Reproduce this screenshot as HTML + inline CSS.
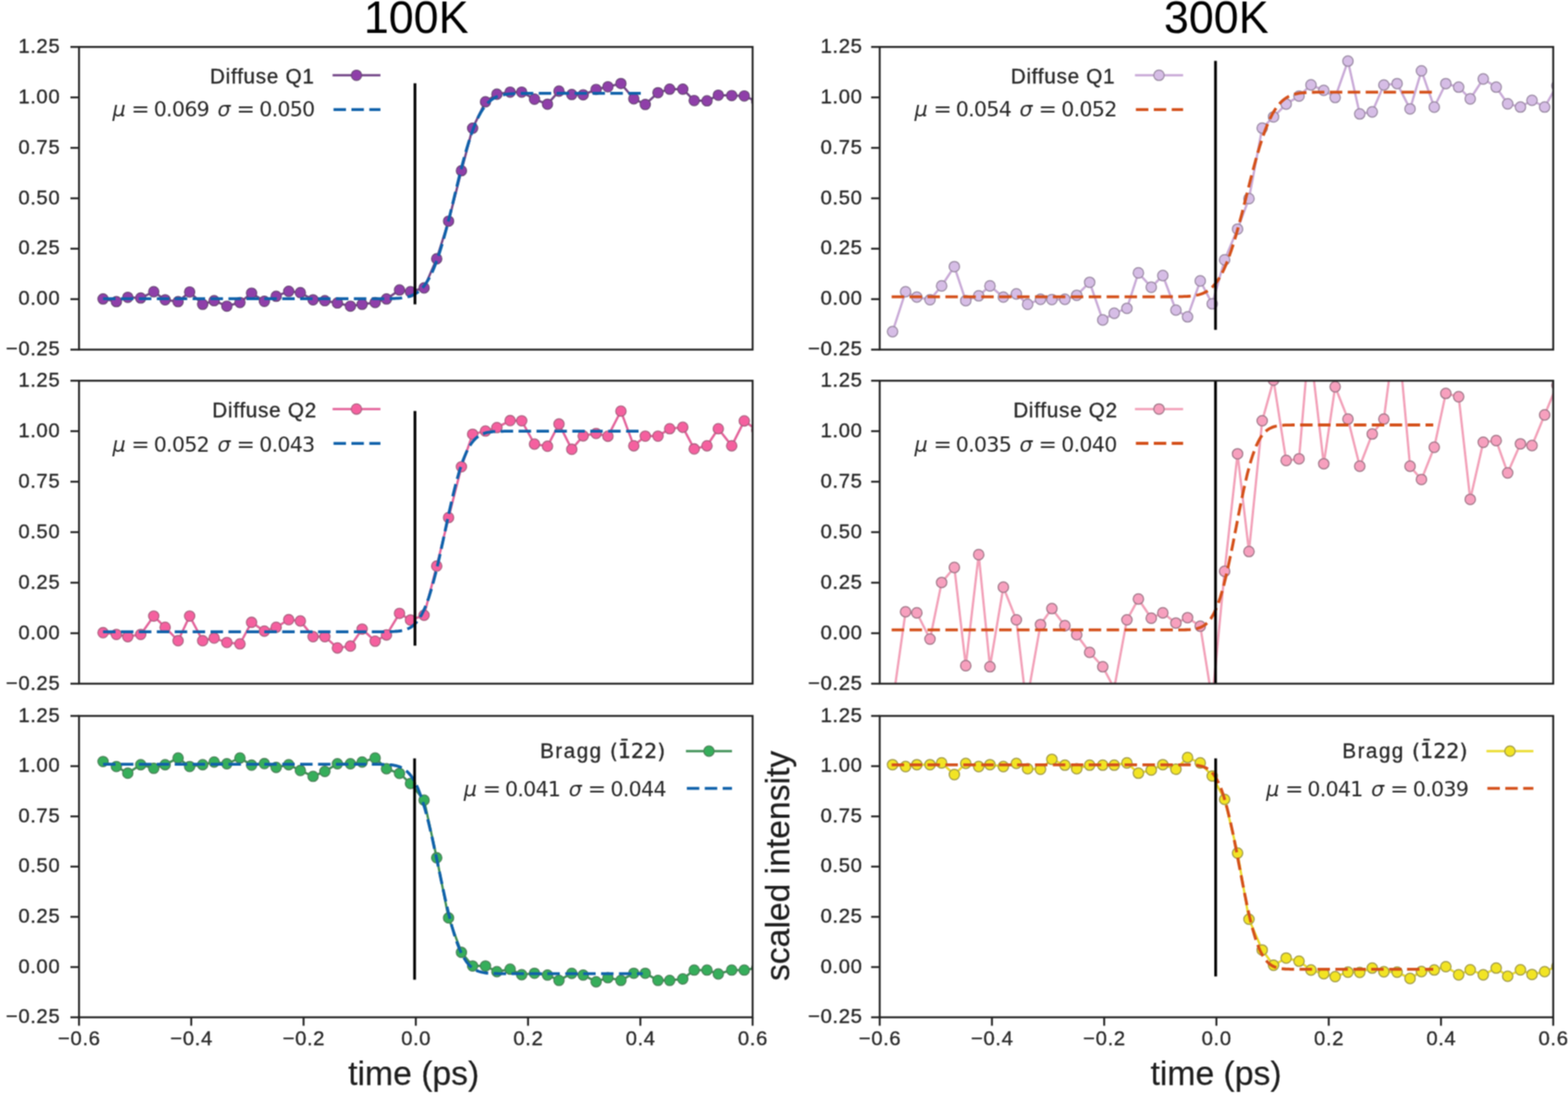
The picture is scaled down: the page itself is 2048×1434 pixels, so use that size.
<!DOCTYPE html>
<html><head><meta charset="utf-8"><title>Figure</title><style>html,body{margin:0;padding:0;background:#fff;}svg{display:block;}text{stroke:#282828;stroke-width:0.4px;}</style></head><body>
<svg width="2048" height="1434" viewBox="0 0 2048 1434">
<rect width="2048" height="1434" fill="#fff"/>
<defs>
<clipPath id="c00"><rect x="103.2" y="61.3" width="879.8" height="395.3"/></clipPath>
<clipPath id="c01"><rect x="1149.0" y="61.3" width="879.7" height="395.3"/></clipPath>
<clipPath id="c10"><rect x="103.2" y="497.2" width="879.8" height="395.7"/></clipPath>
<clipPath id="c11"><rect x="1149.0" y="497.2" width="879.7" height="395.7"/></clipPath>
<clipPath id="c20"><rect x="103.2" y="935.0" width="879.8" height="393.6"/></clipPath>
<clipPath id="c21"><rect x="1149.0" y="935.0" width="879.7" height="393.6"/></clipPath>
<filter id="blur" x="0" y="0" width="2048" height="1434" filterUnits="userSpaceOnUse" color-interpolation-filters="sRGB"><feConvolveMatrix order="3" kernelMatrix="1 2 1 2 4 2 1 2 1" divisor="16"/></filter>
</defs>
<g filter="url(#blur)">
<g clip-path="url(#c00)">
<polyline points="134.6,390.4 152.0,393.9 166.9,388.3 183.8,389.2 200.8,381.0 215.7,391.6 232.6,393.9 247.7,381.3 264.7,397.4 279.7,392.7 296.3,399.8 313.4,395.1 328.6,382.8 345.3,393.5 360.7,386.9 377.1,380.4 392.3,382.2 408.9,391.6 424.3,392.7 440.7,395.7 457.7,399.8 473.0,397.4 490.0,395.1 504.8,390.4 521.8,378.7 536.1,381.0 553.9,376.0 570.4,338.0 585.9,288.8 602.7,222.9 617.3,167.4 634.1,132.9 649.0,123.0 666.3,120.3 681.4,120.3 698.1,129.5 715.1,136.1 730.1,119.0 746.8,123.4 761.7,123.8 778.6,116.8 794.0,113.3 811.0,109.1 827.8,129.0 842.8,136.4 859.4,121.1 874.7,116.4 891.8,116.4 906.7,131.3 923.4,131.7 938.2,124.3 955.7,124.8 972.1,125.3 988.5,132.7" fill="none" stroke="#744789" stroke-width="3" stroke-linejoin="round"/>
<circle cx="134.6" cy="390.4" r="6.8" fill="#8f3fa9" stroke="#654672" stroke-width="1.2"/>
<circle cx="152.0" cy="393.9" r="6.8" fill="#8f3fa9" stroke="#654672" stroke-width="1.2"/>
<circle cx="166.9" cy="388.3" r="6.8" fill="#8f3fa9" stroke="#654672" stroke-width="1.2"/>
<circle cx="183.8" cy="389.2" r="6.8" fill="#8f3fa9" stroke="#654672" stroke-width="1.2"/>
<circle cx="200.8" cy="381.0" r="6.8" fill="#8f3fa9" stroke="#654672" stroke-width="1.2"/>
<circle cx="215.7" cy="391.6" r="6.8" fill="#8f3fa9" stroke="#654672" stroke-width="1.2"/>
<circle cx="232.6" cy="393.9" r="6.8" fill="#8f3fa9" stroke="#654672" stroke-width="1.2"/>
<circle cx="247.7" cy="381.3" r="6.8" fill="#8f3fa9" stroke="#654672" stroke-width="1.2"/>
<circle cx="264.7" cy="397.4" r="6.8" fill="#8f3fa9" stroke="#654672" stroke-width="1.2"/>
<circle cx="279.7" cy="392.7" r="6.8" fill="#8f3fa9" stroke="#654672" stroke-width="1.2"/>
<circle cx="296.3" cy="399.8" r="6.8" fill="#8f3fa9" stroke="#654672" stroke-width="1.2"/>
<circle cx="313.4" cy="395.1" r="6.8" fill="#8f3fa9" stroke="#654672" stroke-width="1.2"/>
<circle cx="328.6" cy="382.8" r="6.8" fill="#8f3fa9" stroke="#654672" stroke-width="1.2"/>
<circle cx="345.3" cy="393.5" r="6.8" fill="#8f3fa9" stroke="#654672" stroke-width="1.2"/>
<circle cx="360.7" cy="386.9" r="6.8" fill="#8f3fa9" stroke="#654672" stroke-width="1.2"/>
<circle cx="377.1" cy="380.4" r="6.8" fill="#8f3fa9" stroke="#654672" stroke-width="1.2"/>
<circle cx="392.3" cy="382.2" r="6.8" fill="#8f3fa9" stroke="#654672" stroke-width="1.2"/>
<circle cx="408.9" cy="391.6" r="6.8" fill="#8f3fa9" stroke="#654672" stroke-width="1.2"/>
<circle cx="424.3" cy="392.7" r="6.8" fill="#8f3fa9" stroke="#654672" stroke-width="1.2"/>
<circle cx="440.7" cy="395.7" r="6.8" fill="#8f3fa9" stroke="#654672" stroke-width="1.2"/>
<circle cx="457.7" cy="399.8" r="6.8" fill="#8f3fa9" stroke="#654672" stroke-width="1.2"/>
<circle cx="473.0" cy="397.4" r="6.8" fill="#8f3fa9" stroke="#654672" stroke-width="1.2"/>
<circle cx="490.0" cy="395.1" r="6.8" fill="#8f3fa9" stroke="#654672" stroke-width="1.2"/>
<circle cx="504.8" cy="390.4" r="6.8" fill="#8f3fa9" stroke="#654672" stroke-width="1.2"/>
<circle cx="521.8" cy="378.7" r="6.8" fill="#8f3fa9" stroke="#654672" stroke-width="1.2"/>
<circle cx="536.1" cy="381.0" r="6.8" fill="#8f3fa9" stroke="#654672" stroke-width="1.2"/>
<circle cx="553.9" cy="376.0" r="6.8" fill="#8f3fa9" stroke="#654672" stroke-width="1.2"/>
<circle cx="570.4" cy="338.0" r="6.8" fill="#8f3fa9" stroke="#654672" stroke-width="1.2"/>
<circle cx="585.9" cy="288.8" r="6.8" fill="#8f3fa9" stroke="#654672" stroke-width="1.2"/>
<circle cx="602.7" cy="222.9" r="6.8" fill="#8f3fa9" stroke="#654672" stroke-width="1.2"/>
<circle cx="617.3" cy="167.4" r="6.8" fill="#8f3fa9" stroke="#654672" stroke-width="1.2"/>
<circle cx="634.1" cy="132.9" r="6.8" fill="#8f3fa9" stroke="#654672" stroke-width="1.2"/>
<circle cx="649.0" cy="123.0" r="6.8" fill="#8f3fa9" stroke="#654672" stroke-width="1.2"/>
<circle cx="666.3" cy="120.3" r="6.8" fill="#8f3fa9" stroke="#654672" stroke-width="1.2"/>
<circle cx="681.4" cy="120.3" r="6.8" fill="#8f3fa9" stroke="#654672" stroke-width="1.2"/>
<circle cx="698.1" cy="129.5" r="6.8" fill="#8f3fa9" stroke="#654672" stroke-width="1.2"/>
<circle cx="715.1" cy="136.1" r="6.8" fill="#8f3fa9" stroke="#654672" stroke-width="1.2"/>
<circle cx="730.1" cy="119.0" r="6.8" fill="#8f3fa9" stroke="#654672" stroke-width="1.2"/>
<circle cx="746.8" cy="123.4" r="6.8" fill="#8f3fa9" stroke="#654672" stroke-width="1.2"/>
<circle cx="761.7" cy="123.8" r="6.8" fill="#8f3fa9" stroke="#654672" stroke-width="1.2"/>
<circle cx="778.6" cy="116.8" r="6.8" fill="#8f3fa9" stroke="#654672" stroke-width="1.2"/>
<circle cx="794.0" cy="113.3" r="6.8" fill="#8f3fa9" stroke="#654672" stroke-width="1.2"/>
<circle cx="811.0" cy="109.1" r="6.8" fill="#8f3fa9" stroke="#654672" stroke-width="1.2"/>
<circle cx="827.8" cy="129.0" r="6.8" fill="#8f3fa9" stroke="#654672" stroke-width="1.2"/>
<circle cx="842.8" cy="136.4" r="6.8" fill="#8f3fa9" stroke="#654672" stroke-width="1.2"/>
<circle cx="859.4" cy="121.1" r="6.8" fill="#8f3fa9" stroke="#654672" stroke-width="1.2"/>
<circle cx="874.7" cy="116.4" r="6.8" fill="#8f3fa9" stroke="#654672" stroke-width="1.2"/>
<circle cx="891.8" cy="116.4" r="6.8" fill="#8f3fa9" stroke="#654672" stroke-width="1.2"/>
<circle cx="906.7" cy="131.3" r="6.8" fill="#8f3fa9" stroke="#654672" stroke-width="1.2"/>
<circle cx="923.4" cy="131.7" r="6.8" fill="#8f3fa9" stroke="#654672" stroke-width="1.2"/>
<circle cx="938.2" cy="124.3" r="6.8" fill="#8f3fa9" stroke="#654672" stroke-width="1.2"/>
<circle cx="955.7" cy="124.8" r="6.8" fill="#8f3fa9" stroke="#654672" stroke-width="1.2"/>
<circle cx="972.1" cy="125.3" r="6.8" fill="#8f3fa9" stroke="#654672" stroke-width="1.2"/>
<circle cx="988.5" cy="132.7" r="6.8" fill="#8f3fa9" stroke="#654672" stroke-width="1.2"/>
</g>
<g clip-path="url(#c00)"><polyline points="134.6,390.2 136.9,390.2 139.3,390.2 141.6,390.2 144.0,390.2 146.3,390.2 148.7,390.2 151.0,390.2 153.4,390.2 155.7,390.2 158.1,390.2 160.4,390.2 162.8,390.2 165.1,390.2 167.5,390.2 169.8,390.2 172.2,390.2 174.5,390.2 176.9,390.2 179.2,390.2 181.6,390.2 183.9,390.2 186.3,390.2 188.6,390.2 191.0,390.2 193.3,390.2 195.7,390.2 198.0,390.2 200.4,390.2 202.7,390.2 205.1,390.2 207.4,390.2 209.8,390.2 212.1,390.2 214.5,390.2 216.8,390.2 219.2,390.2 221.5,390.2 223.9,390.2 226.2,390.2 228.6,390.2 230.9,390.2 233.3,390.2 235.6,390.2 238.0,390.2 240.3,390.2 242.7,390.2 245.0,390.2 247.4,390.2 249.7,390.2 252.1,390.2 254.4,390.2 256.8,390.2 259.1,390.2 261.5,390.2 263.8,390.2 266.2,390.2 268.5,390.2 270.9,390.2 273.2,390.2 275.6,390.2 277.9,390.2 280.3,390.2 282.6,390.2 285.0,390.2 287.3,390.2 289.7,390.2 292.0,390.2 294.4,390.2 296.7,390.2 299.1,390.2 301.4,390.2 303.8,390.2 306.1,390.2 308.5,390.2 310.8,390.2 313.2,390.2 315.5,390.2 317.9,390.2 320.2,390.2 322.6,390.2 324.9,390.2 327.3,390.2 329.6,390.2 332.0,390.2 334.3,390.2 336.7,390.2 339.0,390.2 341.4,390.2 343.7,390.2 346.1,390.2 348.4,390.2 350.8,390.2 353.1,390.2 355.5,390.2 357.8,390.2 360.2,390.2 362.5,390.2 364.9,390.2 367.2,390.2 369.6,390.2 371.9,390.2 374.3,390.2 376.6,390.2 379.0,390.2 381.3,390.2 383.7,390.2 386.0,390.2 388.4,390.2 390.7,390.2 393.1,390.2 395.4,390.2 397.8,390.2 400.1,390.2 402.5,390.2 404.8,390.2 407.2,390.2 409.5,390.2 411.9,390.2 414.2,390.2 416.6,390.2 418.9,390.2 421.3,390.2 423.6,390.2 426.0,390.2 428.3,390.2 430.7,390.2 433.0,390.2 435.4,390.2 437.7,390.2 440.1,390.2 442.4,390.2 444.8,390.2 447.1,390.2 449.5,390.2 451.8,390.2 454.2,390.2 456.5,390.2 458.9,390.2 461.2,390.2 463.6,390.2 465.9,390.2 468.3,390.2 470.6,390.2 473.0,390.2 475.3,390.2 477.7,390.2 480.0,390.2 482.4,390.2 484.7,390.2 487.0,390.2 489.4,390.2 491.7,390.2 494.1,390.2 496.4,390.2 498.8,390.2 501.1,390.1 503.5,390.1 505.8,390.1 508.2,390.1 510.5,390.0 512.9,389.9 515.2,389.9 517.6,389.7 519.9,389.6 522.3,389.4 524.6,389.2 527.0,388.8 529.3,388.4 531.7,387.9 534.0,387.3 536.4,386.6 538.7,385.6 541.1,384.5 543.4,383.1 545.8,381.5 548.1,379.6 550.5,377.4 552.8,374.8 555.2,371.7 557.5,368.3 559.9,364.4 562.2,360.0 564.6,355.1 566.9,349.7 569.3,343.7 571.6,337.2 574.0,330.2 576.3,322.7 578.7,314.7 581.0,306.3 583.4,297.5 585.7,288.4 588.1,279.0 590.4,269.4 592.8,259.8 595.1,250.1 597.5,240.4 599.8,230.9 602.2,221.6 604.5,212.5 606.9,203.8 609.2,195.5 611.6,187.6 613.9,180.2 616.3,173.3 618.6,167.0 621.0,161.1 623.3,155.8 625.7,151.0 628.0,146.8 630.4,143.0 632.7,139.6 635.1,136.7 637.4,134.2 639.8,132.0 642.1,130.2 644.5,128.6 646.8,127.3 649.2,126.2 651.5,125.4 653.9,124.6 656.2,124.0 658.6,123.6 660.9,123.2 663.3,122.9 665.6,122.7 668.0,122.5 670.3,122.3 672.7,122.2 675.0,122.1 677.4,122.1 679.7,122.0 682.1,122.0 684.4,122.0 686.8,122.0 689.1,121.9 691.5,121.9 693.8,121.9 696.2,121.9 698.5,121.9 700.9,121.9 703.2,121.9 705.6,121.9 707.9,121.9 710.3,121.9 712.6,121.9 715.0,121.9 717.3,121.9 719.7,121.9 722.0,121.9 724.4,121.9 726.7,121.9 729.1,121.9 731.4,121.9 733.8,121.9 736.1,121.9 738.5,121.9 740.8,121.9 743.2,121.9 745.5,121.9 747.9,121.9 750.2,121.9 752.6,121.9 754.9,121.9 757.3,121.9 759.6,121.9 762.0,121.9 764.3,121.9 766.7,121.9 769.0,121.9 771.4,121.9 773.7,121.9 776.1,121.9 778.4,121.9 780.8,121.9 783.1,121.9 785.5,121.9 787.8,121.9 790.2,121.9 792.5,121.9 794.9,121.9 797.2,121.9 799.6,121.9 801.9,121.9 804.3,121.9 806.6,121.9 809.0,121.9 811.3,121.9 813.7,121.9 816.0,121.9 818.4,121.9 820.7,121.9 823.1,121.9 825.4,121.9 827.8,121.9 830.1,121.9 832.5,121.9 834.8,121.9 837.2,121.9 839.5,121.9" fill="none" stroke="#0f61aa" stroke-width="3.8" stroke-dasharray="16.3 7.1"/></g>
<line x1="542.0" y1="108.8" x2="542.0" y2="397.4" stroke="#000" stroke-width="3.6"/>
<g clip-path="url(#c10)">
<polyline points="134.6,826.3 152.0,828.6 166.9,831.5 183.8,828.6 200.8,804.6 215.7,819.2 232.6,836.8 247.7,804.6 264.7,836.8 279.7,833.3 296.3,839.1 313.4,840.9 328.6,812.8 345.3,824.2 360.7,819.2 377.1,809.3 392.3,811.0 408.9,831.5 424.3,831.5 440.7,846.2 457.7,843.8 473.0,821.6 490.0,837.4 504.8,829.2 521.8,801.1 536.1,809.8 553.9,803.5 570.4,739.3 585.9,675.9 602.7,609.6 617.3,567.1 634.1,562.9 649.0,558.4 666.3,549.3 681.4,549.6 698.1,580.0 715.1,582.8 730.1,553.8 746.8,586.8 761.7,569.2 778.6,566.1 794.0,569.7 811.0,536.9 827.8,582.2 842.8,569.6 859.4,569.6 874.7,559.9 891.8,558.0 906.7,586.3 923.4,582.2 938.2,559.9 955.7,582.2 972.1,549.7 988.5,561.7" fill="none" stroke="#e3649b" stroke-width="3" stroke-linejoin="round"/>
<circle cx="134.6" cy="826.3" r="6.8" fill="#f5609f" stroke="#a8607e" stroke-width="1.3"/>
<circle cx="152.0" cy="828.6" r="6.8" fill="#f5609f" stroke="#a8607e" stroke-width="1.3"/>
<circle cx="166.9" cy="831.5" r="6.8" fill="#f5609f" stroke="#a8607e" stroke-width="1.3"/>
<circle cx="183.8" cy="828.6" r="6.8" fill="#f5609f" stroke="#a8607e" stroke-width="1.3"/>
<circle cx="200.8" cy="804.6" r="6.8" fill="#f5609f" stroke="#a8607e" stroke-width="1.3"/>
<circle cx="215.7" cy="819.2" r="6.8" fill="#f5609f" stroke="#a8607e" stroke-width="1.3"/>
<circle cx="232.6" cy="836.8" r="6.8" fill="#f5609f" stroke="#a8607e" stroke-width="1.3"/>
<circle cx="247.7" cy="804.6" r="6.8" fill="#f5609f" stroke="#a8607e" stroke-width="1.3"/>
<circle cx="264.7" cy="836.8" r="6.8" fill="#f5609f" stroke="#a8607e" stroke-width="1.3"/>
<circle cx="279.7" cy="833.3" r="6.8" fill="#f5609f" stroke="#a8607e" stroke-width="1.3"/>
<circle cx="296.3" cy="839.1" r="6.8" fill="#f5609f" stroke="#a8607e" stroke-width="1.3"/>
<circle cx="313.4" cy="840.9" r="6.8" fill="#f5609f" stroke="#a8607e" stroke-width="1.3"/>
<circle cx="328.6" cy="812.8" r="6.8" fill="#f5609f" stroke="#a8607e" stroke-width="1.3"/>
<circle cx="345.3" cy="824.2" r="6.8" fill="#f5609f" stroke="#a8607e" stroke-width="1.3"/>
<circle cx="360.7" cy="819.2" r="6.8" fill="#f5609f" stroke="#a8607e" stroke-width="1.3"/>
<circle cx="377.1" cy="809.3" r="6.8" fill="#f5609f" stroke="#a8607e" stroke-width="1.3"/>
<circle cx="392.3" cy="811.0" r="6.8" fill="#f5609f" stroke="#a8607e" stroke-width="1.3"/>
<circle cx="408.9" cy="831.5" r="6.8" fill="#f5609f" stroke="#a8607e" stroke-width="1.3"/>
<circle cx="424.3" cy="831.5" r="6.8" fill="#f5609f" stroke="#a8607e" stroke-width="1.3"/>
<circle cx="440.7" cy="846.2" r="6.8" fill="#f5609f" stroke="#a8607e" stroke-width="1.3"/>
<circle cx="457.7" cy="843.8" r="6.8" fill="#f5609f" stroke="#a8607e" stroke-width="1.3"/>
<circle cx="473.0" cy="821.6" r="6.8" fill="#f5609f" stroke="#a8607e" stroke-width="1.3"/>
<circle cx="490.0" cy="837.4" r="6.8" fill="#f5609f" stroke="#a8607e" stroke-width="1.3"/>
<circle cx="504.8" cy="829.2" r="6.8" fill="#f5609f" stroke="#a8607e" stroke-width="1.3"/>
<circle cx="521.8" cy="801.1" r="6.8" fill="#f5609f" stroke="#a8607e" stroke-width="1.3"/>
<circle cx="536.1" cy="809.8" r="6.8" fill="#f5609f" stroke="#a8607e" stroke-width="1.3"/>
<circle cx="553.9" cy="803.5" r="6.8" fill="#f5609f" stroke="#a8607e" stroke-width="1.3"/>
<circle cx="570.4" cy="739.3" r="6.8" fill="#f5609f" stroke="#a8607e" stroke-width="1.3"/>
<circle cx="585.9" cy="675.9" r="6.8" fill="#f5609f" stroke="#a8607e" stroke-width="1.3"/>
<circle cx="602.7" cy="609.6" r="6.8" fill="#f5609f" stroke="#a8607e" stroke-width="1.3"/>
<circle cx="617.3" cy="567.1" r="6.8" fill="#f5609f" stroke="#a8607e" stroke-width="1.3"/>
<circle cx="634.1" cy="562.9" r="6.8" fill="#f5609f" stroke="#a8607e" stroke-width="1.3"/>
<circle cx="649.0" cy="558.4" r="6.8" fill="#f5609f" stroke="#a8607e" stroke-width="1.3"/>
<circle cx="666.3" cy="549.3" r="6.8" fill="#f5609f" stroke="#a8607e" stroke-width="1.3"/>
<circle cx="681.4" cy="549.6" r="6.8" fill="#f5609f" stroke="#a8607e" stroke-width="1.3"/>
<circle cx="698.1" cy="580.0" r="6.8" fill="#f5609f" stroke="#a8607e" stroke-width="1.3"/>
<circle cx="715.1" cy="582.8" r="6.8" fill="#f5609f" stroke="#a8607e" stroke-width="1.3"/>
<circle cx="730.1" cy="553.8" r="6.8" fill="#f5609f" stroke="#a8607e" stroke-width="1.3"/>
<circle cx="746.8" cy="586.8" r="6.8" fill="#f5609f" stroke="#a8607e" stroke-width="1.3"/>
<circle cx="761.7" cy="569.2" r="6.8" fill="#f5609f" stroke="#a8607e" stroke-width="1.3"/>
<circle cx="778.6" cy="566.1" r="6.8" fill="#f5609f" stroke="#a8607e" stroke-width="1.3"/>
<circle cx="794.0" cy="569.7" r="6.8" fill="#f5609f" stroke="#a8607e" stroke-width="1.3"/>
<circle cx="811.0" cy="536.9" r="6.8" fill="#f5609f" stroke="#a8607e" stroke-width="1.3"/>
<circle cx="827.8" cy="582.2" r="6.8" fill="#f5609f" stroke="#a8607e" stroke-width="1.3"/>
<circle cx="842.8" cy="569.6" r="6.8" fill="#f5609f" stroke="#a8607e" stroke-width="1.3"/>
<circle cx="859.4" cy="569.6" r="6.8" fill="#f5609f" stroke="#a8607e" stroke-width="1.3"/>
<circle cx="874.7" cy="559.9" r="6.8" fill="#f5609f" stroke="#a8607e" stroke-width="1.3"/>
<circle cx="891.8" cy="558.0" r="6.8" fill="#f5609f" stroke="#a8607e" stroke-width="1.3"/>
<circle cx="906.7" cy="586.3" r="6.8" fill="#f5609f" stroke="#a8607e" stroke-width="1.3"/>
<circle cx="923.4" cy="582.2" r="6.8" fill="#f5609f" stroke="#a8607e" stroke-width="1.3"/>
<circle cx="938.2" cy="559.9" r="6.8" fill="#f5609f" stroke="#a8607e" stroke-width="1.3"/>
<circle cx="955.7" cy="582.2" r="6.8" fill="#f5609f" stroke="#a8607e" stroke-width="1.3"/>
<circle cx="972.1" cy="549.7" r="6.8" fill="#f5609f" stroke="#a8607e" stroke-width="1.3"/>
<circle cx="988.5" cy="561.7" r="6.8" fill="#f5609f" stroke="#a8607e" stroke-width="1.3"/>
</g>
<g clip-path="url(#c10)"><polyline points="134.6,825.1 136.9,825.1 139.3,825.1 141.6,825.1 144.0,825.1 146.3,825.1 148.7,825.1 151.0,825.1 153.4,825.1 155.7,825.1 158.1,825.1 160.4,825.1 162.8,825.1 165.1,825.1 167.5,825.1 169.8,825.1 172.2,825.1 174.5,825.1 176.9,825.1 179.2,825.1 181.6,825.1 183.9,825.1 186.3,825.1 188.6,825.1 191.0,825.1 193.3,825.1 195.7,825.1 198.0,825.1 200.4,825.1 202.7,825.1 205.1,825.1 207.4,825.1 209.8,825.1 212.1,825.1 214.5,825.1 216.8,825.1 219.2,825.1 221.5,825.1 223.9,825.1 226.2,825.1 228.6,825.1 230.9,825.1 233.3,825.1 235.6,825.1 238.0,825.1 240.3,825.1 242.7,825.1 245.0,825.1 247.4,825.1 249.7,825.1 252.1,825.1 254.4,825.1 256.8,825.1 259.1,825.1 261.5,825.1 263.8,825.1 266.2,825.1 268.5,825.1 270.9,825.1 273.2,825.1 275.6,825.1 277.9,825.1 280.3,825.1 282.6,825.1 285.0,825.1 287.3,825.1 289.7,825.1 292.0,825.1 294.4,825.1 296.7,825.1 299.1,825.1 301.4,825.1 303.8,825.1 306.1,825.1 308.5,825.1 310.8,825.1 313.2,825.1 315.5,825.1 317.9,825.1 320.2,825.1 322.6,825.1 324.9,825.1 327.3,825.1 329.6,825.1 332.0,825.1 334.3,825.1 336.7,825.1 339.0,825.1 341.4,825.1 343.7,825.1 346.1,825.1 348.4,825.1 350.8,825.1 353.1,825.1 355.5,825.1 357.8,825.1 360.2,825.1 362.5,825.1 364.9,825.1 367.2,825.1 369.6,825.1 371.9,825.1 374.3,825.1 376.6,825.1 379.0,825.1 381.3,825.1 383.7,825.1 386.0,825.1 388.4,825.1 390.7,825.1 393.1,825.1 395.4,825.1 397.8,825.1 400.1,825.1 402.5,825.1 404.8,825.1 407.2,825.1 409.5,825.1 411.9,825.1 414.2,825.1 416.6,825.1 418.9,825.1 421.3,825.1 423.6,825.1 426.0,825.1 428.3,825.1 430.7,825.1 433.0,825.1 435.4,825.1 437.7,825.1 440.1,825.1 442.4,825.1 444.8,825.1 447.1,825.1 449.5,825.1 451.8,825.1 454.2,825.1 456.5,825.1 458.9,825.1 461.2,825.1 463.6,825.1 465.9,825.1 468.3,825.1 470.6,825.1 473.0,825.1 475.3,825.1 477.7,825.1 480.0,825.1 482.4,825.1 484.7,825.1 487.0,825.1 489.4,825.1 491.7,825.1 494.1,825.1 496.4,825.1 498.8,825.1 501.1,825.1 503.5,825.0 505.8,825.0 508.2,825.0 510.5,824.9 512.9,824.8 515.2,824.7 517.6,824.5 519.9,824.3 522.3,824.0 524.6,823.6 527.0,823.1 529.3,822.5 531.7,821.7 534.0,820.6 536.4,819.3 538.7,817.7 541.1,815.7 543.4,813.3 545.8,810.4 548.1,807.1 550.5,803.1 552.8,798.5 555.2,793.3 557.5,787.4 559.9,780.8 562.2,773.4 564.6,765.4 566.9,756.8 569.3,747.5 571.6,737.7 574.0,727.5 576.3,716.9 578.7,706.0 581.0,695.0 583.4,684.0 585.7,673.1 588.1,662.5 590.4,652.1 592.8,642.3 595.1,632.9 597.5,624.2 599.8,616.0 602.2,608.6 604.5,601.9 606.9,595.9 609.2,590.5 611.6,585.8 613.9,581.8 616.3,578.3 618.6,575.4 621.0,572.9 623.3,570.9 625.7,569.2 628.0,567.8 630.4,566.7 632.7,565.9 635.1,565.2 637.4,564.7 639.8,564.3 642.1,564.0 644.5,563.7 646.8,563.6 649.2,563.5 651.5,563.4 653.9,563.3 656.2,563.3 658.6,563.2 660.9,563.2 663.3,563.2 665.6,563.2 668.0,563.2 670.3,563.2 672.7,563.2 675.0,563.2 677.4,563.2 679.7,563.2 682.1,563.2 684.4,563.2 686.8,563.2 689.1,563.2 691.5,563.2 693.8,563.2 696.2,563.2 698.5,563.2 700.9,563.2 703.2,563.2 705.6,563.2 707.9,563.2 710.3,563.2 712.6,563.2 715.0,563.2 717.3,563.2 719.7,563.2 722.0,563.2 724.4,563.2 726.7,563.2 729.1,563.2 731.4,563.2 733.8,563.2 736.1,563.2 738.5,563.2 740.8,563.2 743.2,563.2 745.5,563.2 747.9,563.2 750.2,563.2 752.6,563.2 754.9,563.2 757.3,563.2 759.6,563.2 762.0,563.2 764.3,563.1 766.7,563.1 769.0,563.1 771.4,563.1 773.7,563.1 776.1,563.1 778.4,563.1 780.8,563.1 783.1,563.1 785.5,563.1 787.8,563.1 790.2,563.1 792.5,563.1 794.9,563.1 797.2,563.1 799.6,563.1 801.9,563.1 804.3,563.1 806.6,563.1 809.0,563.1 811.3,563.1 813.7,563.1 816.0,563.1 818.4,563.1 820.7,563.1 823.1,563.1 825.4,563.1 827.8,563.1 830.1,563.1 832.5,563.1 834.8,563.1 837.2,563.1 839.5,563.1" fill="none" stroke="#0f61aa" stroke-width="3.8" stroke-dasharray="16.3 7.1"/></g>
<line x1="542.0" y1="536.7" x2="542.0" y2="843.2" stroke="#000" stroke-width="3.6"/>
<g clip-path="url(#c20)">
<polyline points="134.6,994.6 152.0,1001.1 166.9,1009.8 183.8,998.7 200.8,1003.4 215.7,998.7 232.6,989.9 247.7,1001.1 264.7,998.7 279.7,995.2 296.3,997.5 313.4,989.9 328.6,999.3 345.3,997.3 360.7,1002.2 377.1,998.7 392.3,1006.3 408.9,1013.9 424.3,1007.5 440.7,997.5 457.7,997.5 473.0,995.2 490.0,989.9 504.8,1004.0 521.8,1010.1 536.1,1023.2 553.9,1045.0 570.4,1120.3 585.9,1198.8 602.7,1243.8 617.3,1261.6 634.1,1261.6 649.0,1269.0 666.3,1265.7 681.4,1273.0 698.1,1271.1 715.1,1273.4 730.1,1280.4 746.8,1271.2 761.7,1273.4 778.6,1282.2 794.0,1276.9 811.0,1280.4 827.8,1271.1 842.8,1271.1 859.4,1280.4 874.7,1280.4 891.8,1278.5 906.7,1266.9 923.4,1266.9 938.2,1272.0 955.7,1266.9 972.1,1266.9 988.5,1264.1" fill="none" stroke="#3f9056" stroke-width="3" stroke-linejoin="round"/>
<circle cx="134.6" cy="994.6" r="6.8" fill="#36ae5b" stroke="#4a7f57" stroke-width="1.3"/>
<circle cx="152.0" cy="1001.1" r="6.8" fill="#36ae5b" stroke="#4a7f57" stroke-width="1.3"/>
<circle cx="166.9" cy="1009.8" r="6.8" fill="#36ae5b" stroke="#4a7f57" stroke-width="1.3"/>
<circle cx="183.8" cy="998.7" r="6.8" fill="#36ae5b" stroke="#4a7f57" stroke-width="1.3"/>
<circle cx="200.8" cy="1003.4" r="6.8" fill="#36ae5b" stroke="#4a7f57" stroke-width="1.3"/>
<circle cx="215.7" cy="998.7" r="6.8" fill="#36ae5b" stroke="#4a7f57" stroke-width="1.3"/>
<circle cx="232.6" cy="989.9" r="6.8" fill="#36ae5b" stroke="#4a7f57" stroke-width="1.3"/>
<circle cx="247.7" cy="1001.1" r="6.8" fill="#36ae5b" stroke="#4a7f57" stroke-width="1.3"/>
<circle cx="264.7" cy="998.7" r="6.8" fill="#36ae5b" stroke="#4a7f57" stroke-width="1.3"/>
<circle cx="279.7" cy="995.2" r="6.8" fill="#36ae5b" stroke="#4a7f57" stroke-width="1.3"/>
<circle cx="296.3" cy="997.5" r="6.8" fill="#36ae5b" stroke="#4a7f57" stroke-width="1.3"/>
<circle cx="313.4" cy="989.9" r="6.8" fill="#36ae5b" stroke="#4a7f57" stroke-width="1.3"/>
<circle cx="328.6" cy="999.3" r="6.8" fill="#36ae5b" stroke="#4a7f57" stroke-width="1.3"/>
<circle cx="345.3" cy="997.3" r="6.8" fill="#36ae5b" stroke="#4a7f57" stroke-width="1.3"/>
<circle cx="360.7" cy="1002.2" r="6.8" fill="#36ae5b" stroke="#4a7f57" stroke-width="1.3"/>
<circle cx="377.1" cy="998.7" r="6.8" fill="#36ae5b" stroke="#4a7f57" stroke-width="1.3"/>
<circle cx="392.3" cy="1006.3" r="6.8" fill="#36ae5b" stroke="#4a7f57" stroke-width="1.3"/>
<circle cx="408.9" cy="1013.9" r="6.8" fill="#36ae5b" stroke="#4a7f57" stroke-width="1.3"/>
<circle cx="424.3" cy="1007.5" r="6.8" fill="#36ae5b" stroke="#4a7f57" stroke-width="1.3"/>
<circle cx="440.7" cy="997.5" r="6.8" fill="#36ae5b" stroke="#4a7f57" stroke-width="1.3"/>
<circle cx="457.7" cy="997.5" r="6.8" fill="#36ae5b" stroke="#4a7f57" stroke-width="1.3"/>
<circle cx="473.0" cy="995.2" r="6.8" fill="#36ae5b" stroke="#4a7f57" stroke-width="1.3"/>
<circle cx="490.0" cy="989.9" r="6.8" fill="#36ae5b" stroke="#4a7f57" stroke-width="1.3"/>
<circle cx="504.8" cy="1004.0" r="6.8" fill="#36ae5b" stroke="#4a7f57" stroke-width="1.3"/>
<circle cx="521.8" cy="1010.1" r="6.8" fill="#36ae5b" stroke="#4a7f57" stroke-width="1.3"/>
<circle cx="536.1" cy="1023.2" r="6.8" fill="#36ae5b" stroke="#4a7f57" stroke-width="1.3"/>
<circle cx="553.9" cy="1045.0" r="6.8" fill="#36ae5b" stroke="#4a7f57" stroke-width="1.3"/>
<circle cx="570.4" cy="1120.3" r="6.8" fill="#36ae5b" stroke="#4a7f57" stroke-width="1.3"/>
<circle cx="585.9" cy="1198.8" r="6.8" fill="#36ae5b" stroke="#4a7f57" stroke-width="1.3"/>
<circle cx="602.7" cy="1243.8" r="6.8" fill="#36ae5b" stroke="#4a7f57" stroke-width="1.3"/>
<circle cx="617.3" cy="1261.6" r="6.8" fill="#36ae5b" stroke="#4a7f57" stroke-width="1.3"/>
<circle cx="634.1" cy="1261.6" r="6.8" fill="#36ae5b" stroke="#4a7f57" stroke-width="1.3"/>
<circle cx="649.0" cy="1269.0" r="6.8" fill="#36ae5b" stroke="#4a7f57" stroke-width="1.3"/>
<circle cx="666.3" cy="1265.7" r="6.8" fill="#36ae5b" stroke="#4a7f57" stroke-width="1.3"/>
<circle cx="681.4" cy="1273.0" r="6.8" fill="#36ae5b" stroke="#4a7f57" stroke-width="1.3"/>
<circle cx="698.1" cy="1271.1" r="6.8" fill="#36ae5b" stroke="#4a7f57" stroke-width="1.3"/>
<circle cx="715.1" cy="1273.4" r="6.8" fill="#36ae5b" stroke="#4a7f57" stroke-width="1.3"/>
<circle cx="730.1" cy="1280.4" r="6.8" fill="#36ae5b" stroke="#4a7f57" stroke-width="1.3"/>
<circle cx="746.8" cy="1271.2" r="6.8" fill="#36ae5b" stroke="#4a7f57" stroke-width="1.3"/>
<circle cx="761.7" cy="1273.4" r="6.8" fill="#36ae5b" stroke="#4a7f57" stroke-width="1.3"/>
<circle cx="778.6" cy="1282.2" r="6.8" fill="#36ae5b" stroke="#4a7f57" stroke-width="1.3"/>
<circle cx="794.0" cy="1276.9" r="6.8" fill="#36ae5b" stroke="#4a7f57" stroke-width="1.3"/>
<circle cx="811.0" cy="1280.4" r="6.8" fill="#36ae5b" stroke="#4a7f57" stroke-width="1.3"/>
<circle cx="827.8" cy="1271.1" r="6.8" fill="#36ae5b" stroke="#4a7f57" stroke-width="1.3"/>
<circle cx="842.8" cy="1271.1" r="6.8" fill="#36ae5b" stroke="#4a7f57" stroke-width="1.3"/>
<circle cx="859.4" cy="1280.4" r="6.8" fill="#36ae5b" stroke="#4a7f57" stroke-width="1.3"/>
<circle cx="874.7" cy="1280.4" r="6.8" fill="#36ae5b" stroke="#4a7f57" stroke-width="1.3"/>
<circle cx="891.8" cy="1278.5" r="6.8" fill="#36ae5b" stroke="#4a7f57" stroke-width="1.3"/>
<circle cx="906.7" cy="1266.9" r="6.8" fill="#36ae5b" stroke="#4a7f57" stroke-width="1.3"/>
<circle cx="923.4" cy="1266.9" r="6.8" fill="#36ae5b" stroke="#4a7f57" stroke-width="1.3"/>
<circle cx="938.2" cy="1272.0" r="6.8" fill="#36ae5b" stroke="#4a7f57" stroke-width="1.3"/>
<circle cx="955.7" cy="1266.9" r="6.8" fill="#36ae5b" stroke="#4a7f57" stroke-width="1.3"/>
<circle cx="972.1" cy="1266.9" r="6.8" fill="#36ae5b" stroke="#4a7f57" stroke-width="1.3"/>
<circle cx="988.5" cy="1264.1" r="6.8" fill="#36ae5b" stroke="#4a7f57" stroke-width="1.3"/>
</g>
<g clip-path="url(#c20)"><polyline points="134.6,998.1 136.9,998.1 139.3,998.1 141.6,998.1 144.0,998.1 146.3,998.1 148.7,998.1 151.0,998.1 153.4,998.1 155.7,998.1 158.1,998.1 160.4,998.1 162.8,998.1 165.1,998.1 167.5,998.1 169.8,998.1 172.2,998.1 174.5,998.1 176.9,998.1 179.2,998.1 181.6,998.1 183.9,998.1 186.3,998.1 188.6,998.1 191.0,998.1 193.3,998.1 195.7,998.1 198.0,998.1 200.4,998.1 202.7,998.1 205.1,998.1 207.4,998.1 209.8,998.1 212.1,998.1 214.5,998.1 216.8,998.1 219.2,998.1 221.5,998.1 223.9,998.1 226.2,998.1 228.6,998.1 230.9,998.1 233.3,998.1 235.6,998.1 238.0,998.1 240.3,998.1 242.7,998.1 245.0,998.1 247.4,998.1 249.7,998.1 252.1,998.1 254.4,998.1 256.8,998.1 259.1,998.1 261.5,998.1 263.8,998.1 266.2,998.1 268.5,998.1 270.9,998.1 273.2,998.1 275.6,998.1 277.9,998.1 280.3,998.1 282.6,998.1 285.0,998.1 287.3,998.1 289.7,998.1 292.0,998.1 294.4,998.1 296.7,998.1 299.1,998.1 301.4,998.1 303.8,998.1 306.1,998.1 308.5,998.1 310.8,998.1 313.2,998.1 315.5,998.1 317.9,998.1 320.2,998.1 322.6,998.1 324.9,998.1 327.3,998.1 329.6,998.1 332.0,998.1 334.3,998.1 336.7,998.1 339.0,998.1 341.4,998.1 343.7,998.1 346.1,998.1 348.4,998.1 350.8,998.1 353.1,998.1 355.5,998.1 357.8,998.1 360.2,998.1 362.5,998.1 364.9,998.1 367.2,998.1 369.6,998.1 371.9,998.1 374.3,998.1 376.6,998.1 379.0,998.1 381.3,998.1 383.7,998.1 386.0,998.1 388.4,998.1 390.7,998.1 393.1,998.1 395.4,998.1 397.8,998.1 400.1,998.1 402.5,998.1 404.8,998.1 407.2,998.1 409.5,998.1 411.9,998.1 414.2,998.1 416.6,998.1 418.9,998.1 421.3,998.1 423.6,998.1 426.0,998.1 428.3,998.1 430.7,998.1 433.0,998.1 435.4,998.1 437.7,998.1 440.1,998.1 442.4,998.1 444.8,998.1 447.1,998.1 449.5,998.1 451.8,998.1 454.2,998.1 456.5,998.1 458.9,998.1 461.2,998.1 463.6,998.1 465.9,998.1 468.3,998.1 470.6,998.1 473.0,998.1 475.3,998.1 477.7,998.1 480.0,998.1 482.4,998.1 484.7,998.1 487.0,998.1 489.4,998.1 491.7,998.2 494.1,998.2 496.4,998.2 498.8,998.3 501.1,998.3 503.5,998.4 505.8,998.5 508.2,998.7 510.5,998.9 512.9,999.2 515.2,999.6 517.6,1000.1 519.9,1000.8 522.3,1001.6 524.6,1002.7 527.0,1004.0 529.3,1005.6 531.7,1007.6 534.0,1009.9 536.4,1012.7 538.7,1016.1 541.1,1020.0 543.4,1024.5 545.8,1029.6 548.1,1035.4 550.5,1041.9 552.8,1049.1 555.2,1057.0 557.5,1065.6 559.9,1074.8 562.2,1084.6 564.6,1094.8 566.9,1105.5 569.3,1116.4 571.6,1127.6 574.0,1138.8 576.3,1150.0 578.7,1161.1 581.0,1171.8 583.4,1182.2 585.7,1192.1 588.1,1201.5 590.4,1210.3 592.8,1218.4 595.1,1225.8 597.5,1232.5 599.8,1238.5 602.2,1243.9 604.5,1248.5 606.9,1252.6 609.2,1256.1 611.6,1259.1 613.9,1261.6 616.3,1263.6 618.6,1265.3 621.0,1266.7 623.3,1267.9 625.7,1268.7 628.0,1269.4 630.4,1270.0 632.7,1270.4 635.1,1270.8 637.4,1271.0 639.8,1271.2 642.1,1271.3 644.5,1271.4 646.8,1271.5 649.2,1271.5 651.5,1271.6 653.9,1271.6 656.2,1271.6 658.6,1271.6 660.9,1271.6 663.3,1271.6 665.6,1271.7 668.0,1271.7 670.3,1271.7 672.7,1271.7 675.0,1271.7 677.4,1271.7 679.7,1271.7 682.1,1271.7 684.4,1271.7 686.8,1271.7 689.1,1271.7 691.5,1271.7 693.8,1271.7 696.2,1271.7 698.5,1271.7 700.9,1271.7 703.2,1271.7 705.6,1271.7 707.9,1271.7 710.3,1271.7 712.6,1271.7 715.0,1271.7 717.3,1271.7 719.7,1271.7 722.0,1271.7 724.4,1271.7 726.7,1271.7 729.1,1271.7 731.4,1271.7 733.8,1271.7 736.1,1271.7 738.5,1271.7 740.8,1271.7 743.2,1271.7 745.5,1271.7 747.9,1271.7 750.2,1271.7 752.6,1271.7 754.9,1271.7 757.3,1271.7 759.6,1271.7 762.0,1271.7 764.3,1271.7 766.7,1271.7 769.0,1271.7 771.4,1271.7 773.7,1271.7 776.1,1271.7 778.4,1271.7 780.8,1271.7 783.1,1271.7 785.5,1271.7 787.8,1271.7 790.2,1271.7 792.5,1271.7 794.9,1271.7 797.2,1271.7 799.6,1271.7 801.9,1271.7 804.3,1271.7 806.6,1271.7 809.0,1271.7 811.3,1271.7 813.7,1271.7 816.0,1271.7 818.4,1271.7 820.7,1271.7 823.1,1271.7 825.4,1271.7 827.8,1271.7 830.1,1271.7 832.5,1271.7 834.8,1271.7 837.2,1271.7 839.5,1271.7" fill="none" stroke="#0f61aa" stroke-width="3.8" stroke-dasharray="16.3 7.1"/></g>
<line x1="541.5" y1="990.5" x2="541.5" y2="1279.4" stroke="#000" stroke-width="3.6"/>
<g clip-path="url(#c01)">
<polyline points="1165.8,433.1 1182.8,381.0 1197.5,388.0 1214.7,391.5 1229.9,373.4 1246.5,348.2 1261.4,392.7 1278.3,386.3 1293.0,373.4 1310.5,388.0 1327.5,383.9 1342.2,397.4 1359.0,390.9 1373.9,391.2 1390.9,390.9 1406.3,385.7 1423.2,368.7 1440.3,417.9 1455.3,409.1 1471.9,402.7 1486.9,356.4 1503.7,375.1 1518.8,359.9 1535.9,405.0 1551.1,413.8 1567.7,366.9 1583.3,396.8 1599.5,339.4 1616.4,299.2 1631.3,259.4 1648.6,167.3 1663.4,152.7 1679.9,135.9 1696.7,125.5 1712.3,110.9 1729.0,118.0 1743.9,127.3 1760.6,79.8 1776.0,148.8 1792.3,146.1 1807.5,111.0 1824.8,109.2 1841.7,142.2 1856.6,92.5 1873.3,139.9 1888.4,109.2 1905.2,113.8 1920.3,129.1 1937.3,103.1 1954.2,113.8 1969.2,135.6 1985.9,139.8 2001.0,131.0 2017.5,139.8 2033.5,111.9" fill="none" stroke="#c9aad7" stroke-width="3" stroke-linejoin="round"/>
<circle cx="1165.8" cy="433.1" r="6.8" fill="#d6bde6" stroke="#9a8aa3" stroke-width="1.5"/>
<circle cx="1182.8" cy="381.0" r="6.8" fill="#d6bde6" stroke="#9a8aa3" stroke-width="1.5"/>
<circle cx="1197.5" cy="388.0" r="6.8" fill="#d6bde6" stroke="#9a8aa3" stroke-width="1.5"/>
<circle cx="1214.7" cy="391.5" r="6.8" fill="#d6bde6" stroke="#9a8aa3" stroke-width="1.5"/>
<circle cx="1229.9" cy="373.4" r="6.8" fill="#d6bde6" stroke="#9a8aa3" stroke-width="1.5"/>
<circle cx="1246.5" cy="348.2" r="6.8" fill="#d6bde6" stroke="#9a8aa3" stroke-width="1.5"/>
<circle cx="1261.4" cy="392.7" r="6.8" fill="#d6bde6" stroke="#9a8aa3" stroke-width="1.5"/>
<circle cx="1278.3" cy="386.3" r="6.8" fill="#d6bde6" stroke="#9a8aa3" stroke-width="1.5"/>
<circle cx="1293.0" cy="373.4" r="6.8" fill="#d6bde6" stroke="#9a8aa3" stroke-width="1.5"/>
<circle cx="1310.5" cy="388.0" r="6.8" fill="#d6bde6" stroke="#9a8aa3" stroke-width="1.5"/>
<circle cx="1327.5" cy="383.9" r="6.8" fill="#d6bde6" stroke="#9a8aa3" stroke-width="1.5"/>
<circle cx="1342.2" cy="397.4" r="6.8" fill="#d6bde6" stroke="#9a8aa3" stroke-width="1.5"/>
<circle cx="1359.0" cy="390.9" r="6.8" fill="#d6bde6" stroke="#9a8aa3" stroke-width="1.5"/>
<circle cx="1373.9" cy="391.2" r="6.8" fill="#d6bde6" stroke="#9a8aa3" stroke-width="1.5"/>
<circle cx="1390.9" cy="390.9" r="6.8" fill="#d6bde6" stroke="#9a8aa3" stroke-width="1.5"/>
<circle cx="1406.3" cy="385.7" r="6.8" fill="#d6bde6" stroke="#9a8aa3" stroke-width="1.5"/>
<circle cx="1423.2" cy="368.7" r="6.8" fill="#d6bde6" stroke="#9a8aa3" stroke-width="1.5"/>
<circle cx="1440.3" cy="417.9" r="6.8" fill="#d6bde6" stroke="#9a8aa3" stroke-width="1.5"/>
<circle cx="1455.3" cy="409.1" r="6.8" fill="#d6bde6" stroke="#9a8aa3" stroke-width="1.5"/>
<circle cx="1471.9" cy="402.7" r="6.8" fill="#d6bde6" stroke="#9a8aa3" stroke-width="1.5"/>
<circle cx="1486.9" cy="356.4" r="6.8" fill="#d6bde6" stroke="#9a8aa3" stroke-width="1.5"/>
<circle cx="1503.7" cy="375.1" r="6.8" fill="#d6bde6" stroke="#9a8aa3" stroke-width="1.5"/>
<circle cx="1518.8" cy="359.9" r="6.8" fill="#d6bde6" stroke="#9a8aa3" stroke-width="1.5"/>
<circle cx="1535.9" cy="405.0" r="6.8" fill="#d6bde6" stroke="#9a8aa3" stroke-width="1.5"/>
<circle cx="1551.1" cy="413.8" r="6.8" fill="#d6bde6" stroke="#9a8aa3" stroke-width="1.5"/>
<circle cx="1567.7" cy="366.9" r="6.8" fill="#d6bde6" stroke="#9a8aa3" stroke-width="1.5"/>
<circle cx="1583.3" cy="396.8" r="6.8" fill="#d6bde6" stroke="#9a8aa3" stroke-width="1.5"/>
<circle cx="1599.5" cy="339.4" r="6.8" fill="#d6bde6" stroke="#9a8aa3" stroke-width="1.5"/>
<circle cx="1616.4" cy="299.2" r="6.8" fill="#d6bde6" stroke="#9a8aa3" stroke-width="1.5"/>
<circle cx="1631.3" cy="259.4" r="6.8" fill="#d6bde6" stroke="#9a8aa3" stroke-width="1.5"/>
<circle cx="1648.6" cy="167.3" r="6.8" fill="#d6bde6" stroke="#9a8aa3" stroke-width="1.5"/>
<circle cx="1663.4" cy="152.7" r="6.8" fill="#d6bde6" stroke="#9a8aa3" stroke-width="1.5"/>
<circle cx="1679.9" cy="135.9" r="6.8" fill="#d6bde6" stroke="#9a8aa3" stroke-width="1.5"/>
<circle cx="1696.7" cy="125.5" r="6.8" fill="#d6bde6" stroke="#9a8aa3" stroke-width="1.5"/>
<circle cx="1712.3" cy="110.9" r="6.8" fill="#d6bde6" stroke="#9a8aa3" stroke-width="1.5"/>
<circle cx="1729.0" cy="118.0" r="6.8" fill="#d6bde6" stroke="#9a8aa3" stroke-width="1.5"/>
<circle cx="1743.9" cy="127.3" r="6.8" fill="#d6bde6" stroke="#9a8aa3" stroke-width="1.5"/>
<circle cx="1760.6" cy="79.8" r="6.8" fill="#d6bde6" stroke="#9a8aa3" stroke-width="1.5"/>
<circle cx="1776.0" cy="148.8" r="6.8" fill="#d6bde6" stroke="#9a8aa3" stroke-width="1.5"/>
<circle cx="1792.3" cy="146.1" r="6.8" fill="#d6bde6" stroke="#9a8aa3" stroke-width="1.5"/>
<circle cx="1807.5" cy="111.0" r="6.8" fill="#d6bde6" stroke="#9a8aa3" stroke-width="1.5"/>
<circle cx="1824.8" cy="109.2" r="6.8" fill="#d6bde6" stroke="#9a8aa3" stroke-width="1.5"/>
<circle cx="1841.7" cy="142.2" r="6.8" fill="#d6bde6" stroke="#9a8aa3" stroke-width="1.5"/>
<circle cx="1856.6" cy="92.5" r="6.8" fill="#d6bde6" stroke="#9a8aa3" stroke-width="1.5"/>
<circle cx="1873.3" cy="139.9" r="6.8" fill="#d6bde6" stroke="#9a8aa3" stroke-width="1.5"/>
<circle cx="1888.4" cy="109.2" r="6.8" fill="#d6bde6" stroke="#9a8aa3" stroke-width="1.5"/>
<circle cx="1905.2" cy="113.8" r="6.8" fill="#d6bde6" stroke="#9a8aa3" stroke-width="1.5"/>
<circle cx="1920.3" cy="129.1" r="6.8" fill="#d6bde6" stroke="#9a8aa3" stroke-width="1.5"/>
<circle cx="1937.3" cy="103.1" r="6.8" fill="#d6bde6" stroke="#9a8aa3" stroke-width="1.5"/>
<circle cx="1954.2" cy="113.8" r="6.8" fill="#d6bde6" stroke="#9a8aa3" stroke-width="1.5"/>
<circle cx="1969.2" cy="135.6" r="6.8" fill="#d6bde6" stroke="#9a8aa3" stroke-width="1.5"/>
<circle cx="1985.9" cy="139.8" r="6.8" fill="#d6bde6" stroke="#9a8aa3" stroke-width="1.5"/>
<circle cx="2001.0" cy="131.0" r="6.8" fill="#d6bde6" stroke="#9a8aa3" stroke-width="1.5"/>
<circle cx="2017.5" cy="139.8" r="6.8" fill="#d6bde6" stroke="#9a8aa3" stroke-width="1.5"/>
<circle cx="2033.5" cy="111.9" r="6.8" fill="#d6bde6" stroke="#9a8aa3" stroke-width="1.5"/>
</g>
<g clip-path="url(#c01)"><polyline points="1164.6,387.6 1167.0,387.6 1169.3,387.6 1171.7,387.6 1174.0,387.6 1176.4,387.6 1178.7,387.6 1181.1,387.6 1183.5,387.6 1185.8,387.6 1188.2,387.6 1190.5,387.6 1192.9,387.6 1195.3,387.6 1197.6,387.6 1200.0,387.6 1202.3,387.6 1204.7,387.6 1207.0,387.6 1209.4,387.6 1211.8,387.6 1214.1,387.6 1216.5,387.6 1218.8,387.6 1221.2,387.6 1223.5,387.6 1225.9,387.6 1228.3,387.6 1230.6,387.6 1233.0,387.6 1235.3,387.6 1237.7,387.6 1240.1,387.6 1242.4,387.6 1244.8,387.6 1247.1,387.6 1249.5,387.6 1251.8,387.6 1254.2,387.6 1256.6,387.6 1258.9,387.6 1261.3,387.6 1263.6,387.6 1266.0,387.6 1268.4,387.6 1270.7,387.6 1273.1,387.6 1275.4,387.6 1277.8,387.6 1280.1,387.6 1282.5,387.6 1284.9,387.6 1287.2,387.6 1289.6,387.6 1291.9,387.6 1294.3,387.6 1296.6,387.6 1299.0,387.6 1301.4,387.6 1303.7,387.6 1306.1,387.6 1308.4,387.6 1310.8,387.6 1313.2,387.6 1315.5,387.6 1317.9,387.6 1320.2,387.6 1322.6,387.6 1324.9,387.6 1327.3,387.6 1329.7,387.6 1332.0,387.6 1334.4,387.6 1336.7,387.6 1339.1,387.6 1341.4,387.6 1343.8,387.6 1346.2,387.6 1348.5,387.6 1350.9,387.6 1353.2,387.6 1355.6,387.6 1358.0,387.6 1360.3,387.6 1362.7,387.6 1365.0,387.6 1367.4,387.6 1369.7,387.6 1372.1,387.6 1374.5,387.6 1376.8,387.6 1379.2,387.6 1381.5,387.6 1383.9,387.6 1386.3,387.6 1388.6,387.6 1391.0,387.6 1393.3,387.6 1395.7,387.6 1398.0,387.6 1400.4,387.6 1402.8,387.6 1405.1,387.6 1407.5,387.6 1409.8,387.6 1412.2,387.6 1414.5,387.6 1416.9,387.6 1419.3,387.6 1421.6,387.6 1424.0,387.6 1426.3,387.6 1428.7,387.6 1431.1,387.6 1433.4,387.6 1435.8,387.6 1438.1,387.6 1440.5,387.6 1442.8,387.6 1445.2,387.6 1447.6,387.6 1449.9,387.6 1452.3,387.6 1454.6,387.6 1457.0,387.6 1459.3,387.6 1461.7,387.6 1464.1,387.6 1466.4,387.6 1468.8,387.6 1471.1,387.6 1473.5,387.6 1475.9,387.6 1478.2,387.6 1480.6,387.6 1482.9,387.6 1485.3,387.6 1487.6,387.6 1490.0,387.6 1492.4,387.6 1494.7,387.6 1497.1,387.6 1499.4,387.6 1501.8,387.6 1504.2,387.6 1506.5,387.6 1508.9,387.6 1511.2,387.6 1513.6,387.6 1515.9,387.6 1518.3,387.5 1520.7,387.5 1523.0,387.5 1525.4,387.5 1527.7,387.5 1530.1,387.5 1532.4,387.5 1534.8,387.5 1537.2,387.5 1539.5,387.4 1541.9,387.4 1544.2,387.3 1546.6,387.2 1549.0,387.1 1551.3,387.0 1553.7,386.8 1556.0,386.6 1558.4,386.3 1560.7,385.9 1563.1,385.5 1565.5,385.0 1567.8,384.3 1570.2,383.5 1572.5,382.5 1574.9,381.3 1577.2,379.9 1579.6,378.2 1582.0,376.2 1584.3,374.0 1586.7,371.3 1589.0,368.3 1591.4,364.9 1593.8,361.1 1596.1,356.8 1598.5,352.0 1600.8,346.7 1603.2,340.9 1605.5,334.7 1607.9,327.9 1610.3,320.7 1612.6,313.1 1615.0,305.0 1617.3,296.6 1619.7,287.9 1622.1,279.0 1624.4,269.8 1626.8,260.5 1629.1,251.2 1631.5,241.9 1633.8,232.7 1636.2,223.7 1638.6,214.8 1640.9,206.3 1643.3,198.1 1645.6,190.3 1648.0,182.9 1650.3,176.0 1652.7,169.5 1655.1,163.5 1657.4,158.0 1659.8,153.1 1662.1,148.5 1664.5,144.5 1666.9,140.9 1669.2,137.7 1671.6,135.0 1673.9,132.6 1676.3,130.5 1678.6,128.7 1681.0,127.2 1683.4,125.9 1685.7,124.8 1688.1,123.9 1690.4,123.2 1692.8,122.6 1695.2,122.1 1697.5,121.7 1699.9,121.4 1702.2,121.2 1704.6,121.0 1706.9,120.8 1709.3,120.7 1711.7,120.6 1714.0,120.5 1716.4,120.5 1718.7,120.4 1721.1,120.4 1723.4,120.4 1725.8,120.4 1728.2,120.4 1730.5,120.4 1732.9,120.3 1735.2,120.3 1737.6,120.3 1740.0,120.3 1742.3,120.3 1744.7,120.3 1747.0,120.3 1749.4,120.3 1751.7,120.3 1754.1,120.3 1756.5,120.3 1758.8,120.3 1761.2,120.3 1763.5,120.3 1765.9,120.3 1768.2,120.3 1770.6,120.3 1773.0,120.3 1775.3,120.3 1777.7,120.3 1780.0,120.3 1782.4,120.3 1784.8,120.3 1787.1,120.3 1789.5,120.3 1791.8,120.3 1794.2,120.3 1796.5,120.3 1798.9,120.3 1801.3,120.3 1803.6,120.3 1806.0,120.3 1808.3,120.3 1810.7,120.3 1813.0,120.3 1815.4,120.3 1817.8,120.3 1820.1,120.3 1822.5,120.3 1824.8,120.3 1827.2,120.3 1829.6,120.3 1831.9,120.3 1834.3,120.3 1836.6,120.3 1839.0,120.3 1841.3,120.3 1843.7,120.3 1846.1,120.3 1848.4,120.3 1850.8,120.3 1853.1,120.3 1855.5,120.3 1857.9,120.3 1860.2,120.3 1862.6,120.3 1864.9,120.3 1867.3,120.3 1869.6,120.3 1872.0,120.3" fill="none" stroke="#d4501a" stroke-width="3.8" stroke-dasharray="16.3 7.1"/></g>
<line x1="1587.6" y1="79.4" x2="1587.6" y2="430.8" stroke="#000" stroke-width="3.6"/>
<g clip-path="url(#c11)">
<polyline points="1165.8,919.0 1182.8,799.0 1197.5,800.4 1214.7,834.6 1229.9,760.7 1246.5,741.1 1261.4,869.4 1278.3,724.4 1293.0,870.8 1310.5,766.9 1327.5,809.5 1340.5,920.0 1359.0,815.7 1373.9,794.8 1390.9,817.1 1406.3,829.0 1423.2,852.0 1440.3,870.8 1455.3,899.0 1471.9,809.5 1486.9,782.3 1503.7,807.4 1518.8,800.4 1535.9,813.7 1551.1,806.7 1567.7,817.8 1583.3,915.0 1599.5,746.1 1616.4,592.7 1631.3,720.3 1648.6,549.5 1663.4,496.5 1679.9,601.4 1696.7,599.2 1710.0,444.0 1729.0,605.7 1743.9,505.1 1760.6,547.3 1776.0,608.9 1792.3,566.8 1807.5,547.3 1824.3,418.0 1841.7,608.9 1856.6,626.2 1873.3,584.1 1888.4,513.8 1905.2,518.1 1920.3,652.2 1937.3,577.6 1954.2,575.4 1969.2,617.6 1985.9,579.7 2001.0,581.9 2017.5,541.9 2033.5,503.0" fill="none" stroke="#f2a0b8" stroke-width="3" stroke-linejoin="round"/>
<circle cx="1165.8" cy="919.0" r="6.8" fill="#f7a0be" stroke="#a07788" stroke-width="1.5"/>
<circle cx="1182.8" cy="799.0" r="6.8" fill="#f7a0be" stroke="#a07788" stroke-width="1.5"/>
<circle cx="1197.5" cy="800.4" r="6.8" fill="#f7a0be" stroke="#a07788" stroke-width="1.5"/>
<circle cx="1214.7" cy="834.6" r="6.8" fill="#f7a0be" stroke="#a07788" stroke-width="1.5"/>
<circle cx="1229.9" cy="760.7" r="6.8" fill="#f7a0be" stroke="#a07788" stroke-width="1.5"/>
<circle cx="1246.5" cy="741.1" r="6.8" fill="#f7a0be" stroke="#a07788" stroke-width="1.5"/>
<circle cx="1261.4" cy="869.4" r="6.8" fill="#f7a0be" stroke="#a07788" stroke-width="1.5"/>
<circle cx="1278.3" cy="724.4" r="6.8" fill="#f7a0be" stroke="#a07788" stroke-width="1.5"/>
<circle cx="1293.0" cy="870.8" r="6.8" fill="#f7a0be" stroke="#a07788" stroke-width="1.5"/>
<circle cx="1310.5" cy="766.9" r="6.8" fill="#f7a0be" stroke="#a07788" stroke-width="1.5"/>
<circle cx="1327.5" cy="809.5" r="6.8" fill="#f7a0be" stroke="#a07788" stroke-width="1.5"/>
<circle cx="1340.5" cy="920.0" r="6.8" fill="#f7a0be" stroke="#a07788" stroke-width="1.5"/>
<circle cx="1359.0" cy="815.7" r="6.8" fill="#f7a0be" stroke="#a07788" stroke-width="1.5"/>
<circle cx="1373.9" cy="794.8" r="6.8" fill="#f7a0be" stroke="#a07788" stroke-width="1.5"/>
<circle cx="1390.9" cy="817.1" r="6.8" fill="#f7a0be" stroke="#a07788" stroke-width="1.5"/>
<circle cx="1406.3" cy="829.0" r="6.8" fill="#f7a0be" stroke="#a07788" stroke-width="1.5"/>
<circle cx="1423.2" cy="852.0" r="6.8" fill="#f7a0be" stroke="#a07788" stroke-width="1.5"/>
<circle cx="1440.3" cy="870.8" r="6.8" fill="#f7a0be" stroke="#a07788" stroke-width="1.5"/>
<circle cx="1455.3" cy="899.0" r="6.8" fill="#f7a0be" stroke="#a07788" stroke-width="1.5"/>
<circle cx="1471.9" cy="809.5" r="6.8" fill="#f7a0be" stroke="#a07788" stroke-width="1.5"/>
<circle cx="1486.9" cy="782.3" r="6.8" fill="#f7a0be" stroke="#a07788" stroke-width="1.5"/>
<circle cx="1503.7" cy="807.4" r="6.8" fill="#f7a0be" stroke="#a07788" stroke-width="1.5"/>
<circle cx="1518.8" cy="800.4" r="6.8" fill="#f7a0be" stroke="#a07788" stroke-width="1.5"/>
<circle cx="1535.9" cy="813.7" r="6.8" fill="#f7a0be" stroke="#a07788" stroke-width="1.5"/>
<circle cx="1551.1" cy="806.7" r="6.8" fill="#f7a0be" stroke="#a07788" stroke-width="1.5"/>
<circle cx="1567.7" cy="817.8" r="6.8" fill="#f7a0be" stroke="#a07788" stroke-width="1.5"/>
<circle cx="1583.3" cy="915.0" r="6.8" fill="#f7a0be" stroke="#a07788" stroke-width="1.5"/>
<circle cx="1599.5" cy="746.1" r="6.8" fill="#f7a0be" stroke="#a07788" stroke-width="1.5"/>
<circle cx="1616.4" cy="592.7" r="6.8" fill="#f7a0be" stroke="#a07788" stroke-width="1.5"/>
<circle cx="1631.3" cy="720.3" r="6.8" fill="#f7a0be" stroke="#a07788" stroke-width="1.5"/>
<circle cx="1648.6" cy="549.5" r="6.8" fill="#f7a0be" stroke="#a07788" stroke-width="1.5"/>
<circle cx="1663.4" cy="496.5" r="6.8" fill="#f7a0be" stroke="#a07788" stroke-width="1.5"/>
<circle cx="1679.9" cy="601.4" r="6.8" fill="#f7a0be" stroke="#a07788" stroke-width="1.5"/>
<circle cx="1696.7" cy="599.2" r="6.8" fill="#f7a0be" stroke="#a07788" stroke-width="1.5"/>
<circle cx="1710.0" cy="444.0" r="6.8" fill="#f7a0be" stroke="#a07788" stroke-width="1.5"/>
<circle cx="1729.0" cy="605.7" r="6.8" fill="#f7a0be" stroke="#a07788" stroke-width="1.5"/>
<circle cx="1743.9" cy="505.1" r="6.8" fill="#f7a0be" stroke="#a07788" stroke-width="1.5"/>
<circle cx="1760.6" cy="547.3" r="6.8" fill="#f7a0be" stroke="#a07788" stroke-width="1.5"/>
<circle cx="1776.0" cy="608.9" r="6.8" fill="#f7a0be" stroke="#a07788" stroke-width="1.5"/>
<circle cx="1792.3" cy="566.8" r="6.8" fill="#f7a0be" stroke="#a07788" stroke-width="1.5"/>
<circle cx="1807.5" cy="547.3" r="6.8" fill="#f7a0be" stroke="#a07788" stroke-width="1.5"/>
<circle cx="1824.3" cy="418.0" r="6.8" fill="#f7a0be" stroke="#a07788" stroke-width="1.5"/>
<circle cx="1841.7" cy="608.9" r="6.8" fill="#f7a0be" stroke="#a07788" stroke-width="1.5"/>
<circle cx="1856.6" cy="626.2" r="6.8" fill="#f7a0be" stroke="#a07788" stroke-width="1.5"/>
<circle cx="1873.3" cy="584.1" r="6.8" fill="#f7a0be" stroke="#a07788" stroke-width="1.5"/>
<circle cx="1888.4" cy="513.8" r="6.8" fill="#f7a0be" stroke="#a07788" stroke-width="1.5"/>
<circle cx="1905.2" cy="518.1" r="6.8" fill="#f7a0be" stroke="#a07788" stroke-width="1.5"/>
<circle cx="1920.3" cy="652.2" r="6.8" fill="#f7a0be" stroke="#a07788" stroke-width="1.5"/>
<circle cx="1937.3" cy="577.6" r="6.8" fill="#f7a0be" stroke="#a07788" stroke-width="1.5"/>
<circle cx="1954.2" cy="575.4" r="6.8" fill="#f7a0be" stroke="#a07788" stroke-width="1.5"/>
<circle cx="1969.2" cy="617.6" r="6.8" fill="#f7a0be" stroke="#a07788" stroke-width="1.5"/>
<circle cx="1985.9" cy="579.7" r="6.8" fill="#f7a0be" stroke="#a07788" stroke-width="1.5"/>
<circle cx="2001.0" cy="581.9" r="6.8" fill="#f7a0be" stroke="#a07788" stroke-width="1.5"/>
<circle cx="2017.5" cy="541.9" r="6.8" fill="#f7a0be" stroke="#a07788" stroke-width="1.5"/>
<circle cx="2033.5" cy="503.0" r="6.8" fill="#f7a0be" stroke="#a07788" stroke-width="1.5"/>
</g>
<g clip-path="url(#c11)"><polyline points="1164.6,822.7 1167.0,822.7 1169.3,822.7 1171.7,822.7 1174.0,822.7 1176.4,822.7 1178.7,822.7 1181.1,822.7 1183.5,822.7 1185.8,822.7 1188.2,822.7 1190.5,822.7 1192.9,822.7 1195.3,822.7 1197.6,822.7 1200.0,822.7 1202.3,822.7 1204.7,822.7 1207.0,822.7 1209.4,822.7 1211.8,822.7 1214.1,822.7 1216.5,822.7 1218.8,822.7 1221.2,822.7 1223.5,822.7 1225.9,822.7 1228.3,822.7 1230.6,822.7 1233.0,822.7 1235.3,822.7 1237.7,822.7 1240.1,822.7 1242.4,822.7 1244.8,822.7 1247.1,822.7 1249.5,822.7 1251.8,822.7 1254.2,822.7 1256.6,822.7 1258.9,822.7 1261.3,822.7 1263.6,822.7 1266.0,822.7 1268.4,822.7 1270.7,822.7 1273.1,822.7 1275.4,822.7 1277.8,822.7 1280.1,822.7 1282.5,822.7 1284.9,822.7 1287.2,822.7 1289.6,822.7 1291.9,822.7 1294.3,822.7 1296.6,822.7 1299.0,822.7 1301.4,822.7 1303.7,822.7 1306.1,822.7 1308.4,822.7 1310.8,822.7 1313.2,822.7 1315.5,822.7 1317.9,822.7 1320.2,822.7 1322.6,822.7 1324.9,822.7 1327.3,822.7 1329.7,822.7 1332.0,822.7 1334.4,822.7 1336.7,822.7 1339.1,822.7 1341.4,822.7 1343.8,822.7 1346.2,822.7 1348.5,822.7 1350.9,822.7 1353.2,822.7 1355.6,822.7 1358.0,822.7 1360.3,822.7 1362.7,822.7 1365.0,822.7 1367.4,822.7 1369.7,822.7 1372.1,822.7 1374.5,822.7 1376.8,822.7 1379.2,822.7 1381.5,822.7 1383.9,822.7 1386.3,822.7 1388.6,822.7 1391.0,822.7 1393.3,822.7 1395.7,822.7 1398.0,822.7 1400.4,822.7 1402.8,822.7 1405.1,822.7 1407.5,822.7 1409.8,822.7 1412.2,822.7 1414.5,822.7 1416.9,822.7 1419.3,822.7 1421.6,822.7 1424.0,822.7 1426.3,822.7 1428.7,822.7 1431.1,822.7 1433.4,822.7 1435.8,822.7 1438.1,822.7 1440.5,822.7 1442.8,822.7 1445.2,822.7 1447.6,822.7 1449.9,822.7 1452.3,822.7 1454.6,822.7 1457.0,822.7 1459.3,822.7 1461.7,822.7 1464.1,822.7 1466.4,822.7 1468.8,822.7 1471.1,822.7 1473.5,822.7 1475.9,822.7 1478.2,822.7 1480.6,822.7 1482.9,822.7 1485.3,822.7 1487.6,822.7 1490.0,822.7 1492.4,822.7 1494.7,822.7 1497.1,822.7 1499.4,822.7 1501.8,822.7 1504.2,822.7 1506.5,822.7 1508.9,822.7 1511.2,822.7 1513.6,822.7 1515.9,822.7 1518.3,822.7 1520.7,822.7 1523.0,822.7 1525.4,822.7 1527.7,822.7 1530.1,822.7 1532.4,822.7 1534.8,822.7 1537.2,822.7 1539.5,822.7 1541.9,822.7 1544.2,822.6 1546.6,822.6 1549.0,822.5 1551.3,822.4 1553.7,822.3 1556.0,822.1 1558.4,821.8 1560.7,821.5 1563.1,821.0 1565.5,820.3 1567.8,819.5 1570.2,818.4 1572.5,817.0 1574.9,815.2 1577.2,813.0 1579.6,810.4 1582.0,807.1 1584.3,803.3 1586.7,798.7 1589.0,793.4 1591.4,787.2 1593.8,780.3 1596.1,772.5 1598.5,763.9 1600.8,754.5 1603.2,744.4 1605.5,733.6 1607.9,722.3 1610.3,710.6 1612.6,698.6 1615.0,686.4 1617.3,674.3 1619.7,662.4 1622.1,650.8 1624.4,639.7 1626.8,629.2 1629.1,619.3 1631.5,610.3 1633.8,602.0 1636.2,594.5 1638.6,587.9 1640.9,582.1 1643.3,577.1 1645.6,572.8 1648.0,569.2 1650.3,566.2 1652.7,563.7 1655.1,561.7 1657.4,560.1 1659.8,558.9 1662.1,557.9 1664.5,557.1 1666.9,556.5 1669.2,556.1 1671.6,555.8 1673.9,555.5 1676.3,555.4 1678.6,555.2 1681.0,555.2 1683.4,555.1 1685.7,555.1 1688.1,555.0 1690.4,555.0 1692.8,555.0 1695.2,555.0 1697.5,555.0 1699.9,555.0 1702.2,555.0 1704.6,555.0 1706.9,555.0 1709.3,555.0 1711.7,555.0 1714.0,555.0 1716.4,555.0 1718.7,555.0 1721.1,555.0 1723.4,555.0 1725.8,555.0 1728.2,555.0 1730.5,555.0 1732.9,555.0 1735.2,555.0 1737.6,555.0 1740.0,555.0 1742.3,555.0 1744.7,555.0 1747.0,555.0 1749.4,555.0 1751.7,555.0 1754.1,555.0 1756.5,555.0 1758.8,555.0 1761.2,555.0 1763.5,555.0 1765.9,555.0 1768.2,555.0 1770.6,555.0 1773.0,555.0 1775.3,555.0 1777.7,555.0 1780.0,555.0 1782.4,555.0 1784.8,555.0 1787.1,555.0 1789.5,555.0 1791.8,555.0 1794.2,555.0 1796.5,555.0 1798.9,555.0 1801.3,555.0 1803.6,555.0 1806.0,555.0 1808.3,555.0 1810.7,555.0 1813.0,555.0 1815.4,555.0 1817.8,555.0 1820.1,555.0 1822.5,555.0 1824.8,555.0 1827.2,555.0 1829.6,555.0 1831.9,555.0 1834.3,555.0 1836.6,555.0 1839.0,555.0 1841.3,555.0 1843.7,555.0 1846.1,555.0 1848.4,555.0 1850.8,555.0 1853.1,555.0 1855.5,555.0 1857.9,555.0 1860.2,555.0 1862.6,555.0 1864.9,555.0 1867.3,555.0 1869.6,555.0 1872.0,555.0" fill="none" stroke="#d4501a" stroke-width="3.8" stroke-dasharray="16.3 7.1"/></g>
<line x1="1587.6" y1="497.2" x2="1587.6" y2="892.9" stroke="#000" stroke-width="3.6"/>
<g clip-path="url(#c21)">
<polyline points="1165.8,998.7 1182.8,1001.1 1197.5,998.7 1214.7,998.7 1229.9,996.4 1246.5,1011.6 1261.4,997.0 1278.3,1001.1 1293.0,998.7 1310.5,1001.1 1327.5,997.0 1342.2,1004.0 1359.0,1004.6 1373.9,991.7 1390.9,999.3 1406.3,1004.0 1423.2,999.3 1440.3,999.3 1455.3,999.3 1471.9,996.4 1486.9,1009.8 1503.7,1005.7 1518.8,998.7 1535.9,1004.6 1551.1,989.3 1567.7,996.4 1583.3,1013.5 1599.5,1044.0 1616.4,1114.1 1631.3,1200.5 1648.6,1240.7 1663.4,1260.6 1679.9,1251.2 1696.7,1255.3 1712.3,1266.9 1729.0,1271.7 1743.9,1275.5 1760.6,1269.6 1776.0,1270.0 1792.3,1264.3 1807.5,1269.1 1824.8,1269.6 1841.7,1277.9 1856.6,1268.9 1873.3,1266.8 1888.4,1262.5 1905.2,1273.1 1920.3,1266.6 1937.3,1273.1 1954.2,1264.3 1969.2,1275.0 1985.9,1266.6 2001.0,1272.7 2017.5,1269.0 2033.5,1262.0" fill="none" stroke="#eadb2c" stroke-width="3" stroke-linejoin="round"/>
<circle cx="1165.8" cy="998.7" r="6.8" fill="#f2e423" stroke="#a09a48" stroke-width="1.5"/>
<circle cx="1182.8" cy="1001.1" r="6.8" fill="#f2e423" stroke="#a09a48" stroke-width="1.5"/>
<circle cx="1197.5" cy="998.7" r="6.8" fill="#f2e423" stroke="#a09a48" stroke-width="1.5"/>
<circle cx="1214.7" cy="998.7" r="6.8" fill="#f2e423" stroke="#a09a48" stroke-width="1.5"/>
<circle cx="1229.9" cy="996.4" r="6.8" fill="#f2e423" stroke="#a09a48" stroke-width="1.5"/>
<circle cx="1246.5" cy="1011.6" r="6.8" fill="#f2e423" stroke="#a09a48" stroke-width="1.5"/>
<circle cx="1261.4" cy="997.0" r="6.8" fill="#f2e423" stroke="#a09a48" stroke-width="1.5"/>
<circle cx="1278.3" cy="1001.1" r="6.8" fill="#f2e423" stroke="#a09a48" stroke-width="1.5"/>
<circle cx="1293.0" cy="998.7" r="6.8" fill="#f2e423" stroke="#a09a48" stroke-width="1.5"/>
<circle cx="1310.5" cy="1001.1" r="6.8" fill="#f2e423" stroke="#a09a48" stroke-width="1.5"/>
<circle cx="1327.5" cy="997.0" r="6.8" fill="#f2e423" stroke="#a09a48" stroke-width="1.5"/>
<circle cx="1342.2" cy="1004.0" r="6.8" fill="#f2e423" stroke="#a09a48" stroke-width="1.5"/>
<circle cx="1359.0" cy="1004.6" r="6.8" fill="#f2e423" stroke="#a09a48" stroke-width="1.5"/>
<circle cx="1373.9" cy="991.7" r="6.8" fill="#f2e423" stroke="#a09a48" stroke-width="1.5"/>
<circle cx="1390.9" cy="999.3" r="6.8" fill="#f2e423" stroke="#a09a48" stroke-width="1.5"/>
<circle cx="1406.3" cy="1004.0" r="6.8" fill="#f2e423" stroke="#a09a48" stroke-width="1.5"/>
<circle cx="1423.2" cy="999.3" r="6.8" fill="#f2e423" stroke="#a09a48" stroke-width="1.5"/>
<circle cx="1440.3" cy="999.3" r="6.8" fill="#f2e423" stroke="#a09a48" stroke-width="1.5"/>
<circle cx="1455.3" cy="999.3" r="6.8" fill="#f2e423" stroke="#a09a48" stroke-width="1.5"/>
<circle cx="1471.9" cy="996.4" r="6.8" fill="#f2e423" stroke="#a09a48" stroke-width="1.5"/>
<circle cx="1486.9" cy="1009.8" r="6.8" fill="#f2e423" stroke="#a09a48" stroke-width="1.5"/>
<circle cx="1503.7" cy="1005.7" r="6.8" fill="#f2e423" stroke="#a09a48" stroke-width="1.5"/>
<circle cx="1518.8" cy="998.7" r="6.8" fill="#f2e423" stroke="#a09a48" stroke-width="1.5"/>
<circle cx="1535.9" cy="1004.6" r="6.8" fill="#f2e423" stroke="#a09a48" stroke-width="1.5"/>
<circle cx="1551.1" cy="989.3" r="6.8" fill="#f2e423" stroke="#a09a48" stroke-width="1.5"/>
<circle cx="1567.7" cy="996.4" r="6.8" fill="#f2e423" stroke="#a09a48" stroke-width="1.5"/>
<circle cx="1583.3" cy="1013.5" r="6.8" fill="#f2e423" stroke="#a09a48" stroke-width="1.5"/>
<circle cx="1599.5" cy="1044.0" r="6.8" fill="#f2e423" stroke="#a09a48" stroke-width="1.5"/>
<circle cx="1616.4" cy="1114.1" r="6.8" fill="#f2e423" stroke="#a09a48" stroke-width="1.5"/>
<circle cx="1631.3" cy="1200.5" r="6.8" fill="#f2e423" stroke="#a09a48" stroke-width="1.5"/>
<circle cx="1648.6" cy="1240.7" r="6.8" fill="#f2e423" stroke="#a09a48" stroke-width="1.5"/>
<circle cx="1663.4" cy="1260.6" r="6.8" fill="#f2e423" stroke="#a09a48" stroke-width="1.5"/>
<circle cx="1679.9" cy="1251.2" r="6.8" fill="#f2e423" stroke="#a09a48" stroke-width="1.5"/>
<circle cx="1696.7" cy="1255.3" r="6.8" fill="#f2e423" stroke="#a09a48" stroke-width="1.5"/>
<circle cx="1712.3" cy="1266.9" r="6.8" fill="#f2e423" stroke="#a09a48" stroke-width="1.5"/>
<circle cx="1729.0" cy="1271.7" r="6.8" fill="#f2e423" stroke="#a09a48" stroke-width="1.5"/>
<circle cx="1743.9" cy="1275.5" r="6.8" fill="#f2e423" stroke="#a09a48" stroke-width="1.5"/>
<circle cx="1760.6" cy="1269.6" r="6.8" fill="#f2e423" stroke="#a09a48" stroke-width="1.5"/>
<circle cx="1776.0" cy="1270.0" r="6.8" fill="#f2e423" stroke="#a09a48" stroke-width="1.5"/>
<circle cx="1792.3" cy="1264.3" r="6.8" fill="#f2e423" stroke="#a09a48" stroke-width="1.5"/>
<circle cx="1807.5" cy="1269.1" r="6.8" fill="#f2e423" stroke="#a09a48" stroke-width="1.5"/>
<circle cx="1824.8" cy="1269.6" r="6.8" fill="#f2e423" stroke="#a09a48" stroke-width="1.5"/>
<circle cx="1841.7" cy="1277.9" r="6.8" fill="#f2e423" stroke="#a09a48" stroke-width="1.5"/>
<circle cx="1856.6" cy="1268.9" r="6.8" fill="#f2e423" stroke="#a09a48" stroke-width="1.5"/>
<circle cx="1873.3" cy="1266.8" r="6.8" fill="#f2e423" stroke="#a09a48" stroke-width="1.5"/>
<circle cx="1888.4" cy="1262.5" r="6.8" fill="#f2e423" stroke="#a09a48" stroke-width="1.5"/>
<circle cx="1905.2" cy="1273.1" r="6.8" fill="#f2e423" stroke="#a09a48" stroke-width="1.5"/>
<circle cx="1920.3" cy="1266.6" r="6.8" fill="#f2e423" stroke="#a09a48" stroke-width="1.5"/>
<circle cx="1937.3" cy="1273.1" r="6.8" fill="#f2e423" stroke="#a09a48" stroke-width="1.5"/>
<circle cx="1954.2" cy="1264.3" r="6.8" fill="#f2e423" stroke="#a09a48" stroke-width="1.5"/>
<circle cx="1969.2" cy="1275.0" r="6.8" fill="#f2e423" stroke="#a09a48" stroke-width="1.5"/>
<circle cx="1985.9" cy="1266.6" r="6.8" fill="#f2e423" stroke="#a09a48" stroke-width="1.5"/>
<circle cx="2001.0" cy="1272.7" r="6.8" fill="#f2e423" stroke="#a09a48" stroke-width="1.5"/>
<circle cx="2017.5" cy="1269.0" r="6.8" fill="#f2e423" stroke="#a09a48" stroke-width="1.5"/>
<circle cx="2033.5" cy="1262.0" r="6.8" fill="#f2e423" stroke="#a09a48" stroke-width="1.5"/>
</g>
<g clip-path="url(#c21)"><polyline points="1164.6,998.8 1167.0,998.8 1169.3,998.8 1171.7,998.8 1174.0,998.8 1176.4,998.8 1178.7,998.8 1181.1,998.8 1183.5,998.8 1185.8,998.8 1188.2,998.8 1190.5,998.8 1192.9,998.8 1195.3,998.8 1197.6,998.8 1200.0,998.8 1202.3,998.8 1204.7,998.8 1207.0,998.8 1209.4,998.8 1211.8,998.8 1214.1,998.8 1216.5,998.8 1218.8,998.8 1221.2,998.8 1223.5,998.8 1225.9,998.8 1228.3,998.8 1230.6,998.8 1233.0,998.8 1235.3,998.8 1237.7,998.8 1240.1,998.8 1242.4,998.8 1244.8,998.8 1247.1,998.8 1249.5,998.8 1251.8,998.8 1254.2,998.8 1256.6,998.8 1258.9,998.8 1261.3,998.8 1263.6,998.8 1266.0,998.8 1268.4,998.8 1270.7,998.8 1273.1,998.8 1275.4,998.8 1277.8,998.8 1280.1,998.8 1282.5,998.8 1284.9,998.8 1287.2,998.8 1289.6,998.8 1291.9,998.8 1294.3,998.8 1296.6,998.8 1299.0,998.8 1301.4,998.8 1303.7,998.8 1306.1,998.8 1308.4,998.8 1310.8,998.8 1313.2,998.8 1315.5,998.8 1317.9,998.8 1320.2,998.8 1322.6,998.8 1324.9,998.8 1327.3,998.8 1329.7,998.8 1332.0,998.8 1334.4,998.8 1336.7,998.8 1339.1,998.8 1341.4,998.8 1343.8,998.8 1346.2,998.8 1348.5,998.8 1350.9,998.8 1353.2,998.8 1355.6,998.8 1358.0,998.8 1360.3,998.8 1362.7,998.8 1365.0,998.8 1367.4,998.8 1369.7,998.8 1372.1,998.8 1374.5,998.8 1376.8,998.8 1379.2,998.8 1381.5,998.8 1383.9,998.8 1386.3,998.8 1388.6,998.8 1391.0,998.8 1393.3,998.8 1395.7,998.8 1398.0,998.8 1400.4,998.8 1402.8,998.8 1405.1,998.8 1407.5,998.8 1409.8,998.8 1412.2,998.8 1414.5,998.8 1416.9,998.8 1419.3,998.8 1421.6,998.8 1424.0,998.8 1426.3,998.8 1428.7,998.8 1431.1,998.8 1433.4,998.8 1435.8,998.8 1438.1,998.8 1440.5,998.8 1442.8,998.8 1445.2,998.8 1447.6,998.8 1449.9,998.8 1452.3,998.8 1454.6,998.8 1457.0,998.8 1459.3,998.8 1461.7,998.8 1464.1,998.8 1466.4,998.8 1468.8,998.8 1471.1,998.8 1473.5,998.8 1475.9,998.8 1478.2,998.8 1480.6,998.8 1482.9,998.8 1485.3,998.8 1487.6,998.8 1490.0,998.8 1492.4,998.8 1494.7,998.8 1497.1,998.8 1499.4,998.8 1501.8,998.8 1504.2,998.8 1506.5,998.8 1508.9,998.8 1511.2,998.8 1513.6,998.8 1515.9,998.8 1518.3,998.8 1520.7,998.8 1523.0,998.8 1525.4,998.8 1527.7,998.8 1530.1,998.8 1532.4,998.8 1534.8,998.8 1537.2,998.8 1539.5,998.8 1541.9,998.8 1544.2,998.8 1546.6,998.8 1549.0,998.8 1551.3,998.9 1553.7,998.9 1556.0,999.0 1558.4,999.1 1560.7,999.3 1563.1,999.5 1565.5,999.9 1567.8,1000.3 1570.2,1000.9 1572.5,1001.7 1574.9,1002.7 1577.2,1004.0 1579.6,1005.7 1582.0,1007.8 1584.3,1010.4 1586.7,1013.6 1589.0,1017.4 1591.4,1022.0 1593.8,1027.3 1596.1,1033.4 1598.5,1040.5 1600.8,1048.3 1603.2,1057.1 1605.5,1066.7 1607.9,1077.1 1610.3,1088.1 1612.6,1099.7 1615.0,1111.7 1617.3,1124.1 1619.7,1136.5 1622.1,1148.8 1624.4,1161.0 1626.8,1172.7 1629.1,1184.0 1631.5,1194.6 1633.8,1204.4 1636.2,1213.5 1638.6,1221.7 1640.9,1229.0 1643.3,1235.4 1645.6,1241.0 1648.0,1245.8 1650.3,1249.9 1652.7,1253.3 1655.1,1256.0 1657.4,1258.3 1659.8,1260.1 1662.1,1261.5 1664.5,1262.7 1666.9,1263.5 1669.2,1264.2 1671.6,1264.7 1673.9,1265.0 1676.3,1265.3 1678.6,1265.5 1681.0,1265.6 1683.4,1265.7 1685.7,1265.8 1688.1,1265.8 1690.4,1265.8 1692.8,1265.9 1695.2,1265.9 1697.5,1265.9 1699.9,1265.9 1702.2,1265.9 1704.6,1265.9 1706.9,1265.9 1709.3,1265.9 1711.7,1265.9 1714.0,1265.9 1716.4,1265.9 1718.7,1265.9 1721.1,1265.9 1723.4,1265.9 1725.8,1265.9 1728.2,1265.9 1730.5,1265.9 1732.9,1265.9 1735.2,1265.9 1737.6,1265.9 1740.0,1265.9 1742.3,1265.9 1744.7,1265.9 1747.0,1265.9 1749.4,1265.9 1751.7,1265.9 1754.1,1265.9 1756.5,1265.9 1758.8,1265.9 1761.2,1265.9 1763.5,1265.9 1765.9,1265.9 1768.2,1265.9 1770.6,1265.9 1773.0,1265.9 1775.3,1265.9 1777.7,1265.9 1780.0,1265.9 1782.4,1265.9 1784.8,1265.9 1787.1,1265.9 1789.5,1265.9 1791.8,1265.9 1794.2,1265.9 1796.5,1265.9 1798.9,1265.9 1801.3,1265.9 1803.6,1265.9 1806.0,1265.9 1808.3,1265.9 1810.7,1265.9 1813.0,1265.9 1815.4,1265.9 1817.8,1265.9 1820.1,1265.9 1822.5,1265.9 1824.8,1265.9 1827.2,1265.9 1829.6,1265.9 1831.9,1265.9 1834.3,1265.9 1836.6,1265.9 1839.0,1265.9 1841.3,1265.9 1843.7,1265.9 1846.1,1265.9 1848.4,1265.9 1850.8,1265.9 1853.1,1265.9 1855.5,1265.9 1857.9,1265.9 1860.2,1265.9 1862.6,1265.9 1864.9,1265.9 1867.3,1265.9 1869.6,1265.9 1872.0,1265.9" fill="none" stroke="#d4501a" stroke-width="3.8" stroke-dasharray="16.3 7.1"/></g>
<line x1="1587.8" y1="990.5" x2="1587.8" y2="1275.2" stroke="#000" stroke-width="3.6"/>
<rect x="103.2" y="61.3" width="879.8" height="395.3" fill="none" stroke="#222222" stroke-width="2.5"/>
<line x1="92.0" y1="456.6" x2="103.2" y2="456.6" stroke="#222222" stroke-width="2.5"/>
<text x="78.7" y="464.2" font-family="'Liberation Sans', Arial, sans-serif" font-size="26.5" fill="#282828" text-anchor="end" letter-spacing="0.8">−0.25</text>
<line x1="92.0" y1="390.7" x2="103.2" y2="390.7" stroke="#222222" stroke-width="2.5"/>
<text x="78.7" y="398.3" font-family="'Liberation Sans', Arial, sans-serif" font-size="26.5" fill="#282828" text-anchor="end" letter-spacing="0.8">0.00</text>
<line x1="92.0" y1="324.8" x2="103.2" y2="324.8" stroke="#222222" stroke-width="2.5"/>
<text x="78.7" y="332.4" font-family="'Liberation Sans', Arial, sans-serif" font-size="26.5" fill="#282828" text-anchor="end" letter-spacing="0.8">0.25</text>
<line x1="92.0" y1="259.0" x2="103.2" y2="259.0" stroke="#222222" stroke-width="2.5"/>
<text x="78.7" y="266.6" font-family="'Liberation Sans', Arial, sans-serif" font-size="26.5" fill="#282828" text-anchor="end" letter-spacing="0.8">0.50</text>
<line x1="92.0" y1="193.1" x2="103.2" y2="193.1" stroke="#222222" stroke-width="2.5"/>
<text x="78.7" y="200.7" font-family="'Liberation Sans', Arial, sans-serif" font-size="26.5" fill="#282828" text-anchor="end" letter-spacing="0.8">0.75</text>
<line x1="92.0" y1="127.2" x2="103.2" y2="127.2" stroke="#222222" stroke-width="2.5"/>
<text x="78.7" y="134.8" font-family="'Liberation Sans', Arial, sans-serif" font-size="26.5" fill="#282828" text-anchor="end" letter-spacing="0.8">1.00</text>
<line x1="92.0" y1="61.3" x2="103.2" y2="61.3" stroke="#222222" stroke-width="2.5"/>
<text x="78.7" y="68.9" font-family="'Liberation Sans', Arial, sans-serif" font-size="26.5" fill="#282828" text-anchor="end" letter-spacing="0.8">1.25</text>
<rect x="1149.0" y="61.3" width="879.7" height="395.3" fill="none" stroke="#222222" stroke-width="2.5"/>
<line x1="1137.8" y1="456.6" x2="1149.0" y2="456.6" stroke="#222222" stroke-width="2.5"/>
<text x="1126.5" y="464.2" font-family="'Liberation Sans', Arial, sans-serif" font-size="26.5" fill="#282828" text-anchor="end" letter-spacing="0.8">−0.25</text>
<line x1="1137.8" y1="390.7" x2="1149.0" y2="390.7" stroke="#222222" stroke-width="2.5"/>
<text x="1126.5" y="398.3" font-family="'Liberation Sans', Arial, sans-serif" font-size="26.5" fill="#282828" text-anchor="end" letter-spacing="0.8">0.00</text>
<line x1="1137.8" y1="324.8" x2="1149.0" y2="324.8" stroke="#222222" stroke-width="2.5"/>
<text x="1126.5" y="332.4" font-family="'Liberation Sans', Arial, sans-serif" font-size="26.5" fill="#282828" text-anchor="end" letter-spacing="0.8">0.25</text>
<line x1="1137.8" y1="259.0" x2="1149.0" y2="259.0" stroke="#222222" stroke-width="2.5"/>
<text x="1126.5" y="266.6" font-family="'Liberation Sans', Arial, sans-serif" font-size="26.5" fill="#282828" text-anchor="end" letter-spacing="0.8">0.50</text>
<line x1="1137.8" y1="193.1" x2="1149.0" y2="193.1" stroke="#222222" stroke-width="2.5"/>
<text x="1126.5" y="200.7" font-family="'Liberation Sans', Arial, sans-serif" font-size="26.5" fill="#282828" text-anchor="end" letter-spacing="0.8">0.75</text>
<line x1="1137.8" y1="127.2" x2="1149.0" y2="127.2" stroke="#222222" stroke-width="2.5"/>
<text x="1126.5" y="134.8" font-family="'Liberation Sans', Arial, sans-serif" font-size="26.5" fill="#282828" text-anchor="end" letter-spacing="0.8">1.00</text>
<line x1="1137.8" y1="61.3" x2="1149.0" y2="61.3" stroke="#222222" stroke-width="2.5"/>
<text x="1126.5" y="68.9" font-family="'Liberation Sans', Arial, sans-serif" font-size="26.5" fill="#282828" text-anchor="end" letter-spacing="0.8">1.25</text>
<rect x="103.2" y="497.2" width="879.8" height="395.7" fill="none" stroke="#222222" stroke-width="2.5"/>
<line x1="92.0" y1="892.9" x2="103.2" y2="892.9" stroke="#222222" stroke-width="2.5"/>
<text x="78.7" y="900.5" font-family="'Liberation Sans', Arial, sans-serif" font-size="26.5" fill="#282828" text-anchor="end" letter-spacing="0.8">−0.25</text>
<line x1="92.0" y1="827.0" x2="103.2" y2="827.0" stroke="#222222" stroke-width="2.5"/>
<text x="78.7" y="834.6" font-family="'Liberation Sans', Arial, sans-serif" font-size="26.5" fill="#282828" text-anchor="end" letter-spacing="0.8">0.00</text>
<line x1="92.0" y1="761.0" x2="103.2" y2="761.0" stroke="#222222" stroke-width="2.5"/>
<text x="78.7" y="768.6" font-family="'Liberation Sans', Arial, sans-serif" font-size="26.5" fill="#282828" text-anchor="end" letter-spacing="0.8">0.25</text>
<line x1="92.0" y1="695.0" x2="103.2" y2="695.0" stroke="#222222" stroke-width="2.5"/>
<text x="78.7" y="702.6" font-family="'Liberation Sans', Arial, sans-serif" font-size="26.5" fill="#282828" text-anchor="end" letter-spacing="0.8">0.50</text>
<line x1="92.0" y1="629.1" x2="103.2" y2="629.1" stroke="#222222" stroke-width="2.5"/>
<text x="78.7" y="636.7" font-family="'Liberation Sans', Arial, sans-serif" font-size="26.5" fill="#282828" text-anchor="end" letter-spacing="0.8">0.75</text>
<line x1="92.0" y1="563.1" x2="103.2" y2="563.1" stroke="#222222" stroke-width="2.5"/>
<text x="78.7" y="570.8" font-family="'Liberation Sans', Arial, sans-serif" font-size="26.5" fill="#282828" text-anchor="end" letter-spacing="0.8">1.00</text>
<line x1="92.0" y1="497.2" x2="103.2" y2="497.2" stroke="#222222" stroke-width="2.5"/>
<text x="78.7" y="504.8" font-family="'Liberation Sans', Arial, sans-serif" font-size="26.5" fill="#282828" text-anchor="end" letter-spacing="0.8">1.25</text>
<rect x="1149.0" y="497.2" width="879.7" height="395.7" fill="none" stroke="#222222" stroke-width="2.5"/>
<line x1="1137.8" y1="892.9" x2="1149.0" y2="892.9" stroke="#222222" stroke-width="2.5"/>
<text x="1126.5" y="900.5" font-family="'Liberation Sans', Arial, sans-serif" font-size="26.5" fill="#282828" text-anchor="end" letter-spacing="0.8">−0.25</text>
<line x1="1137.8" y1="827.0" x2="1149.0" y2="827.0" stroke="#222222" stroke-width="2.5"/>
<text x="1126.5" y="834.6" font-family="'Liberation Sans', Arial, sans-serif" font-size="26.5" fill="#282828" text-anchor="end" letter-spacing="0.8">0.00</text>
<line x1="1137.8" y1="761.0" x2="1149.0" y2="761.0" stroke="#222222" stroke-width="2.5"/>
<text x="1126.5" y="768.6" font-family="'Liberation Sans', Arial, sans-serif" font-size="26.5" fill="#282828" text-anchor="end" letter-spacing="0.8">0.25</text>
<line x1="1137.8" y1="695.0" x2="1149.0" y2="695.0" stroke="#222222" stroke-width="2.5"/>
<text x="1126.5" y="702.6" font-family="'Liberation Sans', Arial, sans-serif" font-size="26.5" fill="#282828" text-anchor="end" letter-spacing="0.8">0.50</text>
<line x1="1137.8" y1="629.1" x2="1149.0" y2="629.1" stroke="#222222" stroke-width="2.5"/>
<text x="1126.5" y="636.7" font-family="'Liberation Sans', Arial, sans-serif" font-size="26.5" fill="#282828" text-anchor="end" letter-spacing="0.8">0.75</text>
<line x1="1137.8" y1="563.1" x2="1149.0" y2="563.1" stroke="#222222" stroke-width="2.5"/>
<text x="1126.5" y="570.8" font-family="'Liberation Sans', Arial, sans-serif" font-size="26.5" fill="#282828" text-anchor="end" letter-spacing="0.8">1.00</text>
<line x1="1137.8" y1="497.2" x2="1149.0" y2="497.2" stroke="#222222" stroke-width="2.5"/>
<text x="1126.5" y="504.8" font-family="'Liberation Sans', Arial, sans-serif" font-size="26.5" fill="#282828" text-anchor="end" letter-spacing="0.8">1.25</text>
<rect x="103.2" y="935.0" width="879.8" height="393.6" fill="none" stroke="#222222" stroke-width="2.5"/>
<line x1="92.0" y1="1328.6" x2="103.2" y2="1328.6" stroke="#222222" stroke-width="2.5"/>
<text x="78.7" y="1336.2" font-family="'Liberation Sans', Arial, sans-serif" font-size="26.5" fill="#282828" text-anchor="end" letter-spacing="0.8">−0.25</text>
<line x1="92.0" y1="1263.0" x2="103.2" y2="1263.0" stroke="#222222" stroke-width="2.5"/>
<text x="78.7" y="1270.6" font-family="'Liberation Sans', Arial, sans-serif" font-size="26.5" fill="#282828" text-anchor="end" letter-spacing="0.8">0.00</text>
<line x1="92.0" y1="1197.4" x2="103.2" y2="1197.4" stroke="#222222" stroke-width="2.5"/>
<text x="78.7" y="1205.0" font-family="'Liberation Sans', Arial, sans-serif" font-size="26.5" fill="#282828" text-anchor="end" letter-spacing="0.8">0.25</text>
<line x1="92.0" y1="1131.8" x2="103.2" y2="1131.8" stroke="#222222" stroke-width="2.5"/>
<text x="78.7" y="1139.4" font-family="'Liberation Sans', Arial, sans-serif" font-size="26.5" fill="#282828" text-anchor="end" letter-spacing="0.8">0.50</text>
<line x1="92.0" y1="1066.2" x2="103.2" y2="1066.2" stroke="#222222" stroke-width="2.5"/>
<text x="78.7" y="1073.8" font-family="'Liberation Sans', Arial, sans-serif" font-size="26.5" fill="#282828" text-anchor="end" letter-spacing="0.8">0.75</text>
<line x1="92.0" y1="1000.6" x2="103.2" y2="1000.6" stroke="#222222" stroke-width="2.5"/>
<text x="78.7" y="1008.2" font-family="'Liberation Sans', Arial, sans-serif" font-size="26.5" fill="#282828" text-anchor="end" letter-spacing="0.8">1.00</text>
<line x1="92.0" y1="935.0" x2="103.2" y2="935.0" stroke="#222222" stroke-width="2.5"/>
<text x="78.7" y="942.6" font-family="'Liberation Sans', Arial, sans-serif" font-size="26.5" fill="#282828" text-anchor="end" letter-spacing="0.8">1.25</text>
<line x1="103.2" y1="1328.6" x2="103.2" y2="1339.6" stroke="#222222" stroke-width="2.5"/>
<text x="103.6" y="1365.2" font-family="'Liberation Sans', Arial, sans-serif" font-size="26.5" fill="#282828" text-anchor="middle" letter-spacing="0.8">−0.6</text>
<line x1="249.8" y1="1328.6" x2="249.8" y2="1339.6" stroke="#222222" stroke-width="2.5"/>
<text x="250.2" y="1365.2" font-family="'Liberation Sans', Arial, sans-serif" font-size="26.5" fill="#282828" text-anchor="middle" letter-spacing="0.8">−0.4</text>
<line x1="396.5" y1="1328.6" x2="396.5" y2="1339.6" stroke="#222222" stroke-width="2.5"/>
<text x="396.9" y="1365.2" font-family="'Liberation Sans', Arial, sans-serif" font-size="26.5" fill="#282828" text-anchor="middle" letter-spacing="0.8">−0.2</text>
<line x1="543.1" y1="1328.6" x2="543.1" y2="1339.6" stroke="#222222" stroke-width="2.5"/>
<text x="543.5" y="1365.2" font-family="'Liberation Sans', Arial, sans-serif" font-size="26.5" fill="#282828" text-anchor="middle" letter-spacing="0.8">0.0</text>
<line x1="689.7" y1="1328.6" x2="689.7" y2="1339.6" stroke="#222222" stroke-width="2.5"/>
<text x="690.1" y="1365.2" font-family="'Liberation Sans', Arial, sans-serif" font-size="26.5" fill="#282828" text-anchor="middle" letter-spacing="0.8">0.2</text>
<line x1="836.4" y1="1328.6" x2="836.4" y2="1339.6" stroke="#222222" stroke-width="2.5"/>
<text x="836.8" y="1365.2" font-family="'Liberation Sans', Arial, sans-serif" font-size="26.5" fill="#282828" text-anchor="middle" letter-spacing="0.8">0.4</text>
<line x1="983.0" y1="1328.6" x2="983.0" y2="1339.6" stroke="#222222" stroke-width="2.5"/>
<text x="983.4" y="1365.2" font-family="'Liberation Sans', Arial, sans-serif" font-size="26.5" fill="#282828" text-anchor="middle" letter-spacing="0.8">0.6</text>
<rect x="1149.0" y="935.0" width="879.7" height="393.6" fill="none" stroke="#222222" stroke-width="2.5"/>
<line x1="1137.8" y1="1328.6" x2="1149.0" y2="1328.6" stroke="#222222" stroke-width="2.5"/>
<text x="1126.5" y="1336.2" font-family="'Liberation Sans', Arial, sans-serif" font-size="26.5" fill="#282828" text-anchor="end" letter-spacing="0.8">−0.25</text>
<line x1="1137.8" y1="1263.0" x2="1149.0" y2="1263.0" stroke="#222222" stroke-width="2.5"/>
<text x="1126.5" y="1270.6" font-family="'Liberation Sans', Arial, sans-serif" font-size="26.5" fill="#282828" text-anchor="end" letter-spacing="0.8">0.00</text>
<line x1="1137.8" y1="1197.4" x2="1149.0" y2="1197.4" stroke="#222222" stroke-width="2.5"/>
<text x="1126.5" y="1205.0" font-family="'Liberation Sans', Arial, sans-serif" font-size="26.5" fill="#282828" text-anchor="end" letter-spacing="0.8">0.25</text>
<line x1="1137.8" y1="1131.8" x2="1149.0" y2="1131.8" stroke="#222222" stroke-width="2.5"/>
<text x="1126.5" y="1139.4" font-family="'Liberation Sans', Arial, sans-serif" font-size="26.5" fill="#282828" text-anchor="end" letter-spacing="0.8">0.50</text>
<line x1="1137.8" y1="1066.2" x2="1149.0" y2="1066.2" stroke="#222222" stroke-width="2.5"/>
<text x="1126.5" y="1073.8" font-family="'Liberation Sans', Arial, sans-serif" font-size="26.5" fill="#282828" text-anchor="end" letter-spacing="0.8">0.75</text>
<line x1="1137.8" y1="1000.6" x2="1149.0" y2="1000.6" stroke="#222222" stroke-width="2.5"/>
<text x="1126.5" y="1008.2" font-family="'Liberation Sans', Arial, sans-serif" font-size="26.5" fill="#282828" text-anchor="end" letter-spacing="0.8">1.00</text>
<line x1="1137.8" y1="935.0" x2="1149.0" y2="935.0" stroke="#222222" stroke-width="2.5"/>
<text x="1126.5" y="942.6" font-family="'Liberation Sans', Arial, sans-serif" font-size="26.5" fill="#282828" text-anchor="end" letter-spacing="0.8">1.25</text>
<line x1="1149.0" y1="1328.6" x2="1149.0" y2="1339.6" stroke="#222222" stroke-width="2.5"/>
<text x="1149.4" y="1365.2" font-family="'Liberation Sans', Arial, sans-serif" font-size="26.5" fill="#282828" text-anchor="middle" letter-spacing="0.8">−0.6</text>
<line x1="1295.6" y1="1328.6" x2="1295.6" y2="1339.6" stroke="#222222" stroke-width="2.5"/>
<text x="1296.0" y="1365.2" font-family="'Liberation Sans', Arial, sans-serif" font-size="26.5" fill="#282828" text-anchor="middle" letter-spacing="0.8">−0.4</text>
<line x1="1442.2" y1="1328.6" x2="1442.2" y2="1339.6" stroke="#222222" stroke-width="2.5"/>
<text x="1442.6" y="1365.2" font-family="'Liberation Sans', Arial, sans-serif" font-size="26.5" fill="#282828" text-anchor="middle" letter-spacing="0.8">−0.2</text>
<line x1="1588.8" y1="1328.6" x2="1588.8" y2="1339.6" stroke="#222222" stroke-width="2.5"/>
<text x="1589.2" y="1365.2" font-family="'Liberation Sans', Arial, sans-serif" font-size="26.5" fill="#282828" text-anchor="middle" letter-spacing="0.8">0.0</text>
<line x1="1735.5" y1="1328.6" x2="1735.5" y2="1339.6" stroke="#222222" stroke-width="2.5"/>
<text x="1735.9" y="1365.2" font-family="'Liberation Sans', Arial, sans-serif" font-size="26.5" fill="#282828" text-anchor="middle" letter-spacing="0.8">0.2</text>
<line x1="1882.1" y1="1328.6" x2="1882.1" y2="1339.6" stroke="#222222" stroke-width="2.5"/>
<text x="1882.5" y="1365.2" font-family="'Liberation Sans', Arial, sans-serif" font-size="26.5" fill="#282828" text-anchor="middle" letter-spacing="0.8">0.4</text>
<line x1="2028.7" y1="1328.6" x2="2028.7" y2="1339.6" stroke="#222222" stroke-width="2.5"/>
<text x="2029.1" y="1365.2" font-family="'Liberation Sans', Arial, sans-serif" font-size="26.5" fill="#282828" text-anchor="middle" letter-spacing="0.8">0.6</text>
<text x="543.6" y="43" font-family="'Liberation Sans', Arial, sans-serif" font-size="58.5" fill="#000" text-anchor="middle" style="stroke:none">100K</text>
<text x="1588.6" y="43" font-family="'Liberation Sans', Arial, sans-serif" font-size="58.5" fill="#000" text-anchor="middle" style="stroke:none">300K</text>
<text x="540.4" y="1416.7" font-family="'Liberation Sans', Arial, sans-serif" font-size="44" fill="#1e1e1e" text-anchor="middle" style="stroke:#1e1e1e;stroke-width:0.25px">time (ps)</text>
<text x="1588.3" y="1416.7" font-family="'Liberation Sans', Arial, sans-serif" font-size="44" fill="#1e1e1e" text-anchor="middle" style="stroke:#1e1e1e;stroke-width:0.25px">time (ps)</text>
<text transform="translate(1030.8,1130.9) rotate(-90)" x="0" y="0" font-family="'Liberation Sans', Arial, sans-serif" font-size="44" fill="#1e1e1e" text-anchor="middle" style="stroke:#1e1e1e;stroke-width:0.25px">scaled intensity</text>
<text x="410.9" y="109.3" font-family="'Liberation Sans', Arial, sans-serif" font-size="27" fill="#282828" text-anchor="end" letter-spacing="0.95">Diffuse Q1</text>
<text x="410.8" y="152.0" font-family="'DejaVu Sans', sans-serif" font-size="27" fill="#282828" text-anchor="end" style="stroke:none"><tspan font-style="italic">μ</tspan><tspan dx="7.4" font-size="28.5">=</tspan><tspan dx="5.2" letter-spacing="-1.0">0.069</tspan><tspan dx="11.0" font-style="italic">σ</tspan><tspan dx="7.9" font-size="28.5">=</tspan><tspan dx="5.6" letter-spacing="-1.0">0.050</tspan></text>
<line x1="434.4" y1="98.3" x2="496.9" y2="98.3" stroke="#744789" stroke-width="3"/>
<circle cx="465.6" cy="98.3" r="6.8" fill="#8f3fa9" stroke="#654672" stroke-width="1.2"/>
<line x1="435.59999999999997" y1="143.2" x2="496.9" y2="143.2" stroke="#0f61aa" stroke-width="3.8" stroke-dasharray="16.3 7.1"/>
<text x="413.9" y="545.4" font-family="'Liberation Sans', Arial, sans-serif" font-size="27" fill="#282828" text-anchor="end" letter-spacing="0.95">Diffuse Q2</text>
<text x="410.8" y="589.6" font-family="'DejaVu Sans', sans-serif" font-size="27" fill="#282828" text-anchor="end" style="stroke:none"><tspan font-style="italic">μ</tspan><tspan dx="7.4" font-size="28.5">=</tspan><tspan dx="5.2" letter-spacing="-1.0">0.052</tspan><tspan dx="11.0" font-style="italic">σ</tspan><tspan dx="7.9" font-size="28.5">=</tspan><tspan dx="5.6" letter-spacing="-1.0">0.043</tspan></text>
<line x1="434.4" y1="534.1999999999999" x2="496.9" y2="534.1999999999999" stroke="#e3649b" stroke-width="3"/>
<circle cx="465.6" cy="534.1999999999999" r="6.8" fill="#f5609f" stroke="#a8607e" stroke-width="1.3"/>
<line x1="435.59999999999997" y1="579.0999999999999" x2="496.9" y2="579.0999999999999" stroke="#0f61aa" stroke-width="3.8" stroke-dasharray="16.3 7.1"/>
<text x="869.0" y="989.6" font-family="'Liberation Sans', Arial, sans-serif" font-size="27" fill="#282828" text-anchor="end" letter-spacing="0.95"><tspan letter-spacing="1.9">Bragg </tspan><tspan font-family="'DejaVu Sans', sans-serif" letter-spacing="0">(1̄22)</tspan></text>
<text x="869.6" y="1039.6" font-family="'DejaVu Sans', sans-serif" font-size="27" fill="#282828" text-anchor="end" style="stroke:none"><tspan font-style="italic">μ</tspan><tspan dx="7.4" font-size="28.5">=</tspan><tspan dx="5.2" letter-spacing="-1.0">0.041</tspan><tspan dx="11.0" font-style="italic">σ</tspan><tspan dx="7.9" font-size="28.5">=</tspan><tspan dx="5.6" letter-spacing="-1.0">0.044</tspan></text>
<line x1="895.9" y1="981.0" x2="956.1" y2="981.0" stroke="#3f9056" stroke-width="3"/>
<circle cx="926.0" cy="981.0" r="6.8" fill="#36ae5b" stroke="#4a7f57" stroke-width="1.3"/>
<line x1="897.1" y1="1029.6" x2="956.1" y2="1029.6" stroke="#0f61aa" stroke-width="3.8" stroke-dasharray="16.3 7.1"/>
<text x="1456.8" y="109.3" font-family="'Liberation Sans', Arial, sans-serif" font-size="27" fill="#282828" text-anchor="end" letter-spacing="0.95">Diffuse Q1</text>
<text x="1458.4" y="152.0" font-family="'DejaVu Sans', sans-serif" font-size="27" fill="#282828" text-anchor="end" style="stroke:none"><tspan font-style="italic">μ</tspan><tspan dx="7.4" font-size="28.5">=</tspan><tspan dx="5.2" letter-spacing="-1.0">0.054</tspan><tspan dx="11.0" font-style="italic">σ</tspan><tspan dx="7.9" font-size="28.5">=</tspan><tspan dx="5.6" letter-spacing="-1.0">0.052</tspan></text>
<line x1="1482.4" y1="98.3" x2="1545.3" y2="98.3" stroke="#c9aad7" stroke-width="3"/>
<circle cx="1513.8" cy="98.3" r="6.8" fill="#d6bde6" stroke="#9a8aa3" stroke-width="1.5"/>
<line x1="1483.6000000000001" y1="143.1" x2="1545.3" y2="143.1" stroke="#d4501a" stroke-width="3.8" stroke-dasharray="16.3 7.1"/>
<text x="1460.0" y="545.4" font-family="'Liberation Sans', Arial, sans-serif" font-size="27" fill="#282828" text-anchor="end" letter-spacing="0.95">Diffuse Q2</text>
<text x="1458.4" y="589.6" font-family="'DejaVu Sans', sans-serif" font-size="27" fill="#282828" text-anchor="end" style="stroke:none"><tspan font-style="italic">μ</tspan><tspan dx="7.4" font-size="28.5">=</tspan><tspan dx="5.2" letter-spacing="-1.0">0.035</tspan><tspan dx="11.0" font-style="italic">σ</tspan><tspan dx="7.9" font-size="28.5">=</tspan><tspan dx="5.6" letter-spacing="-1.0">0.040</tspan></text>
<line x1="1482.4" y1="534.1999999999999" x2="1545.3" y2="534.1999999999999" stroke="#f2a0b8" stroke-width="3"/>
<circle cx="1513.8" cy="534.1999999999999" r="6.8" fill="#f7a0be" stroke="#a07788" stroke-width="1.5"/>
<line x1="1483.6000000000001" y1="579.0" x2="1545.3" y2="579.0" stroke="#d4501a" stroke-width="3.8" stroke-dasharray="16.3 7.1"/>
<text x="1916.8" y="989.6" font-family="'Liberation Sans', Arial, sans-serif" font-size="27" fill="#282828" text-anchor="end" letter-spacing="0.95"><tspan letter-spacing="1.9">Bragg </tspan><tspan font-family="'DejaVu Sans', sans-serif" letter-spacing="0">(1̄22)</tspan></text>
<text x="1917.6" y="1039.6" font-family="'DejaVu Sans', sans-serif" font-size="27" fill="#282828" text-anchor="end" style="stroke:none"><tspan font-style="italic">μ</tspan><tspan dx="7.4" font-size="28.5">=</tspan><tspan dx="5.2" letter-spacing="-1.0">0.041</tspan><tspan dx="11.0" font-style="italic">σ</tspan><tspan dx="7.9" font-size="28.5">=</tspan><tspan dx="5.6" letter-spacing="-1.0">0.039</tspan></text>
<line x1="1941.5" y1="981.0" x2="2002.8" y2="981.0" stroke="#eadb2c" stroke-width="3"/>
<circle cx="1972.2" cy="981.0" r="6.8" fill="#f2e423" stroke="#a09a48" stroke-width="1.5"/>
<line x1="1942.7" y1="1029.6" x2="2002.8" y2="1029.6" stroke="#d4501a" stroke-width="3.8" stroke-dasharray="16.3 7.1"/>
</g>
</svg>
</body></html>
